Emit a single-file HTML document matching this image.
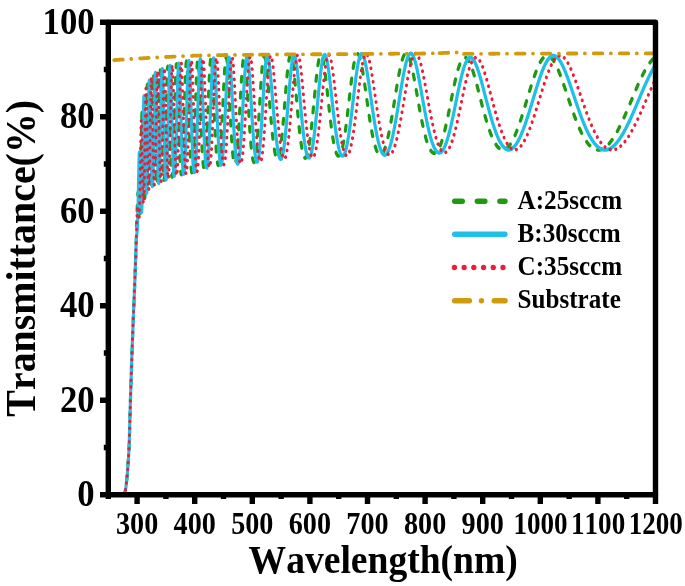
<!DOCTYPE html>
<html><head><meta charset="utf-8"><title>Transmittance</title>
<style>html,body{margin:0;padding:0;background:#fff}svg text{font-kerning:none}</style></head>
<body>
<svg width="685" height="586" viewBox="0 0 685 586" style="display:block">
<rect width="685" height="586" fill="#fff"/>
<defs><clipPath id="pc"><rect x="108.3" y="22.2" width="547.2" height="472.5"/></clipPath></defs>
<g clip-path="url(#pc)" fill="none" stroke-linejoin="round"><g transform="scale(0.82,1)">
<path d="M148.93,494.34 L149.07,494.30 L149.21,494.26 L149.35,494.22 L149.49,494.18 L149.63,494.14 L149.77,494.09 L149.92,494.04 L150.06,494.00 L150.20,493.94 L150.34,493.89 L150.48,493.84 L150.62,493.78 L150.76,493.73 L150.90,493.67 L151.04,493.61 L151.18,493.55 L151.32,493.48 L151.46,493.42 L151.60,493.35 L151.74,493.28 L151.88,493.18 L152.02,493.01 L152.16,492.78 L152.30,492.49 L152.44,492.13 L152.58,491.71 L152.72,491.24 L152.87,490.70 L153.01,490.11 L153.15,489.46 L153.29,488.75 L153.43,487.99 L153.57,487.18 L153.71,486.31 L153.85,485.39 L153.99,484.43 L154.13,483.41 L154.27,482.35 L154.41,481.23 L154.55,480.08 L154.69,478.88 L154.83,477.63 L154.97,476.34 L155.11,475.01 L155.25,473.64 L155.39,472.23 L155.53,470.79 L155.68,469.30 L155.82,467.78 L155.96,466.23 L156.10,464.64 L156.24,463.01 L156.38,461.36 L156.52,459.67 L156.66,457.96 L156.80,456.22 L156.94,454.44 L157.08,452.65 L157.22,450.57 L157.36,448.02 L157.50,445.03 L157.64,441.68 L157.78,438.02 L157.92,434.12 L158.06,430.02 L158.20,425.80 L158.34,421.52 L158.48,417.22 L158.63,412.98 L158.77,408.84 L158.91,404.88 L159.05,401.15 L159.19,397.54 L159.33,393.92 L159.47,390.29 L159.61,386.66 L159.75,383.03 L159.89,379.42 L160.03,375.83 L160.17,372.26 L160.31,368.72 L160.45,365.22 L160.59,361.77 L160.73,358.36 L160.87,355.01 L161.01,351.73 L161.15,348.52 L161.29,345.36 L161.44,342.26 L161.58,339.22 L161.72,336.25 L161.86,333.33 L162.00,330.46 L162.14,327.64 L162.28,324.84 L162.42,322.05 L162.56,319.26 L162.70,316.47 L162.84,313.65 L162.98,310.80 L163.12,307.93 L163.26,305.02 L163.40,302.08 L163.54,299.12 L163.68,296.16 L163.82,293.19 L163.96,290.24 L164.10,287.31 L164.24,284.42 L164.39,281.56 L164.53,278.75 L164.67,275.94 L164.81,273.04 L164.95,270.04 L165.09,266.95 L165.23,263.79 L165.37,260.55 L165.51,257.27 L165.65,253.93 L165.79,250.54 L165.93,247.10 L166.07,243.61 L166.21,240.04 L166.35,236.40 L166.49,232.67 L166.63,228.87 L166.77,225.01 L166.91,221.09 L167.05,217.07 L167.20,213.00 L167.34,209.00 L167.48,205.20 L167.62,201.70 L167.76,198.64 L167.90,196.14 L168.04,194.28 L168.18,193.13 L168.32,192.72 L168.46,193.05 L168.60,194.06 L168.74,195.67 L168.88,197.78 L169.02,200.25 L169.16,202.94 L169.30,205.72 L169.44,208.43 L169.58,210.97 L169.72,213.22 L169.86,215.09 L170.00,216.51 L170.15,217.40 L170.29,217.71 L170.43,217.38 L170.57,216.37 L170.71,214.65 L170.85,212.20 L170.99,209.00 L171.13,205.05 L171.27,200.35 L171.41,194.95 L171.55,188.88 L171.69,182.20 L171.83,175.02 L171.97,167.45 L172.11,159.64 L172.25,151.75 L172.39,143.95 L172.53,136.47 L172.67,129.51 L172.81,123.31 L172.96,118.09 L173.10,114.02 L173.24,111.27 L173.38,109.92 L173.52,110.00 L173.66,111.48 L173.80,114.27 L173.94,118.23 L174.08,123.17 L174.22,128.89 L174.36,135.17 L174.50,141.80 L174.64,148.58 L174.78,155.33 L174.92,161.89 L175.06,168.13 L175.20,173.94 L175.34,179.24 L175.48,183.96 L175.62,188.05 L175.76,191.47 L175.91,194.21 L176.05,196.24 L176.19,197.56 L176.33,198.18 L176.47,198.08 L176.61,197.28 L176.75,195.78 L176.89,193.59 L177.03,190.72 L177.17,187.20 L177.31,183.04 L177.45,178.27 L177.59,172.93 L177.73,167.07 L177.87,160.73 L178.01,154.00 L178.15,146.94 L178.29,139.65 L178.43,132.24 L178.57,124.85 L178.72,117.63 L178.86,110.74 L179.00,104.34 L179.14,98.59 L179.28,93.66 L179.42,89.67 L179.56,86.75 L179.70,84.98 L179.84,84.39 L179.98,85.00 L180.12,86.77 L180.26,89.64 L180.40,93.48 L180.54,98.18 L180.68,103.59 L180.82,109.56 L180.96,115.92 L181.10,122.53 L181.24,129.25 L181.38,135.94 L181.52,142.50 L181.67,148.82 L181.81,154.83 L181.95,160.45 L182.09,165.63 L182.23,170.33 L182.37,174.51 L182.51,178.15 L182.65,181.22 L182.79,183.73 L182.93,185.65 L183.07,186.99 L183.21,187.73 L183.35,187.89 L183.49,187.47 L183.63,186.46 L183.77,184.87 L183.91,182.72 L184.05,180.00 L184.19,176.75 L184.33,172.96 L184.48,168.67 L184.62,163.90 L184.76,158.69 L184.90,153.07 L185.04,147.10 L185.18,140.83 L185.32,134.34 L185.46,127.70 L185.60,121.00 L185.74,114.34 L185.88,107.84 L186.02,101.60 L186.16,95.75 L186.30,90.41 L186.44,85.69 L186.58,81.69 L186.72,78.52 L186.86,76.23 L187.00,74.90 L187.14,74.53 L187.28,75.15 L187.43,76.71 L187.57,79.18 L187.71,82.49 L187.85,86.53 L187.99,91.23 L188.13,96.45 L188.27,102.10 L188.41,108.06 L188.55,114.22 L188.69,120.47 L188.83,126.72 L188.97,132.89 L189.11,138.89 L189.25,144.68 L189.39,150.18 L189.53,155.35 L189.67,160.16 L189.81,164.58 L189.95,168.58 L190.09,172.14 L190.24,175.25 L190.38,177.89 L190.52,180.07 L190.66,181.78 L190.80,183.01 L190.94,183.76 L191.08,184.04 L191.22,183.84 L191.36,183.18 L191.50,182.04 L191.64,180.45 L191.78,178.40 L191.92,175.90 L192.06,172.97 L192.20,169.62 L192.34,165.86 L192.48,161.70 L192.62,157.19 L192.76,152.33 L192.90,147.17 L193.04,141.73 L193.19,136.08 L193.33,130.24 L193.47,124.30 L193.61,118.29 L193.75,112.31 L193.89,106.41 L194.03,100.68 L194.17,95.21 L194.31,90.08 L194.45,85.37 L194.59,81.16 L194.73,77.53 L194.87,74.54 L195.01,72.24 L195.15,70.68 L195.29,69.89 L195.43,69.88 L195.57,70.63 L195.71,72.13 L195.85,74.35 L196.00,77.23 L196.14,80.70 L196.28,84.72 L196.42,89.18 L196.56,94.03 L196.70,99.18 L196.84,104.54 L196.98,110.05 L197.12,115.63 L197.26,121.22 L197.40,126.76 L197.54,132.18 L197.68,137.46 L197.82,142.53 L197.96,147.37 L198.10,151.94 L198.24,156.23 L198.38,160.20 L198.52,163.85 L198.66,167.16 L198.80,170.12 L198.95,172.72 L199.09,174.95 L199.23,176.81 L199.37,178.31 L199.51,179.43 L199.65,180.18 L199.79,180.55 L199.93,180.56 L200.07,180.20 L200.21,179.46 L200.35,178.37 L200.49,176.92 L200.63,175.11 L200.77,172.96 L200.91,170.46 L201.05,167.63 L201.19,164.48 L201.33,161.03 L201.47,157.27 L201.61,153.24 L201.76,148.94 L201.90,144.41 L202.04,139.67 L202.18,134.75 L202.32,129.67 L202.46,124.49 L202.60,119.23 L202.74,113.95 L202.88,108.69 L203.02,103.51 L203.16,98.45 L203.30,93.58 L203.44,88.95 L203.58,84.62 L203.72,80.65 L203.86,77.08 L204.00,73.97 L204.14,71.36 L204.28,69.29 L204.42,67.79 L204.56,66.87 L204.71,66.55 L204.85,66.82 L204.99,67.69 L205.13,69.13 L205.27,71.11 L205.41,73.60 L205.55,76.56 L205.69,79.94 L205.83,83.70 L205.97,87.78 L206.11,92.13 L206.25,96.69 L206.39,101.41 L206.53,106.24 L206.67,111.13 L206.81,116.03 L206.95,120.91 L207.09,125.72 L207.23,130.43 L207.37,135.01 L207.52,139.43 L207.66,143.66 L207.80,147.70 L207.94,151.51 L208.08,155.09 L208.22,158.43 L208.36,161.50 L208.50,164.31 L208.64,166.84 L208.78,169.10 L208.92,171.07 L209.06,172.76 L209.20,174.17 L209.34,175.29 L209.48,176.12 L209.62,176.66 L209.76,176.91 L209.90,176.88 L210.04,176.56 L210.18,175.96 L210.32,175.08 L210.47,173.92 L210.61,172.49 L210.75,170.79 L210.89,168.82 L211.03,166.59 L211.17,164.11 L211.31,161.38 L211.45,158.41 L211.59,155.21 L211.73,151.80 L211.87,148.18 L212.01,144.36 L212.15,140.37 L212.29,136.23 L212.43,131.94 L212.57,127.54 L212.71,123.05 L212.85,118.50 L212.99,113.91 L213.13,109.32 L213.28,104.76 L213.42,100.26 L213.56,95.87 L213.70,91.61 L213.84,87.53 L213.98,83.67 L214.12,80.07 L214.26,76.75 L214.40,73.75 L214.54,71.12 L214.68,68.86 L214.82,67.02 L214.96,65.61 L215.10,64.63 L215.24,64.12 L215.38,64.05 L215.52,64.45 L215.66,65.29 L215.80,66.56 L215.94,68.25 L216.08,70.34 L216.23,72.80 L216.37,75.59 L216.51,78.69 L216.65,82.06 L216.79,85.67 L216.93,89.48 L217.07,93.46 L217.21,97.56 L217.35,101.76 L217.49,106.02 L217.63,110.31 L217.77,114.60 L217.91,118.87 L218.05,123.08 L218.19,127.22 L218.33,131.26 L218.47,135.18 L218.61,138.97 L218.75,142.62 L218.89,146.10 L219.04,149.42 L219.18,152.55 L219.32,155.49 L219.46,158.24 L219.60,160.78 L219.74,163.11 L219.88,165.24 L220.02,167.14 L220.16,168.84 L220.30,170.31 L220.44,171.56 L220.58,172.59 L220.72,173.40 L220.86,173.99 L221.00,174.35 L221.14,174.50 L221.28,174.42 L221.42,174.13 L221.56,173.62 L221.70,172.89 L221.84,171.94 L221.99,170.79 L222.13,169.42 L222.27,167.85 L222.41,166.07 L222.55,164.10 L222.69,161.92 L222.83,159.56 L222.97,157.01 L223.11,154.28 L223.25,151.38 L223.39,148.31 L223.53,145.09 L223.67,141.72 L223.81,138.22 L223.95,134.60 L224.09,130.86 L224.23,127.04 L224.37,123.13 L224.51,119.16 L224.65,115.15 L224.80,111.12 L224.94,107.09 L225.08,103.08 L225.22,99.11 L225.36,95.21 L225.50,91.41 L225.64,87.73 L225.78,84.20 L225.92,80.83 L226.06,77.67 L226.20,74.72 L226.34,72.02 L226.48,69.59 L226.62,67.45 L226.76,65.60 L226.90,64.08 L227.04,62.90 L227.18,62.05 L227.32,61.55 L227.46,61.40 L227.60,61.61 L227.75,62.16 L227.89,63.05 L228.03,64.28 L228.17,65.82 L228.31,67.66 L228.45,69.79 L228.59,72.19 L228.73,74.83 L228.87,77.69 L229.01,80.74 L229.15,83.98 L229.29,87.36 L229.43,90.86 L229.57,94.47 L229.71,98.16 L229.85,101.90 L229.99,105.67 L230.13,109.46 L230.27,113.24 L230.41,116.99 L230.56,120.71 L230.70,124.36 L230.84,127.95 L230.98,131.45 L231.12,134.85 L231.26,138.15 L231.40,141.33 L231.54,144.38 L231.68,147.30 L231.82,150.08 L231.96,152.72 L232.10,155.21 L232.24,157.54 L232.38,159.72 L232.52,161.73 L232.66,163.58 L232.80,165.27 L232.94,166.79 L233.08,168.14 L233.22,169.32 L233.36,170.34 L233.51,171.18 L233.65,171.85 L233.79,172.35 L233.93,172.68 L234.07,172.84 L234.21,172.84 L234.35,172.66 L234.49,172.31 L234.63,171.80 L234.77,171.13 L234.91,170.29 L235.05,169.28 L235.19,168.12 L235.33,166.79 L235.47,165.31 L235.61,163.67 L235.75,161.89 L235.89,159.95 L236.03,157.86 L236.17,155.64 L236.32,153.28 L236.46,150.78 L236.60,148.16 L236.74,145.41 L236.88,142.54 L237.02,139.57 L237.16,136.50 L237.30,133.33 L237.44,130.07 L237.58,126.75 L237.72,123.35 L237.86,119.91 L238.00,116.42 L238.14,112.90 L238.28,109.37 L238.42,105.84 L238.56,102.32 L238.70,98.83 L238.84,95.39 L238.98,92.01 L239.12,88.71 L239.27,85.51 L239.41,82.42 L239.55,79.46 L239.69,76.65 L239.83,74.00 L239.97,71.53 L240.11,69.25 L240.25,67.19 L240.39,65.34 L240.53,63.72 L240.67,62.35 L240.81,61.23 L240.95,60.36 L241.09,59.76 L241.23,59.41 L241.37,59.34 L241.51,59.53 L241.65,59.98 L241.79,60.69 L241.93,61.65 L242.08,62.85 L242.22,64.29 L242.36,65.94 L242.50,67.81 L242.64,69.87 L242.78,72.12 L242.92,74.54 L243.06,77.10 L243.20,79.81 L243.34,82.63 L243.48,85.56 L243.62,88.58 L243.76,91.67 L243.90,94.82 L244.04,98.02 L244.18,101.24 L244.32,104.48 L244.46,107.72 L244.60,110.95 L244.74,114.17 L244.88,117.34 L245.03,120.48 L245.17,123.56 L245.31,126.59 L245.45,129.54 L245.59,132.42 L245.73,135.22 L245.87,137.93 L246.01,140.54 L246.15,143.06 L246.29,145.47 L246.43,147.77 L246.57,149.97 L246.71,152.05 L246.85,154.02 L246.99,155.87 L247.13,157.59 L247.27,159.20 L247.41,160.69 L247.55,162.05 L247.69,163.28 L247.84,164.39 L247.98,165.37 L248.12,166.23 L248.26,166.96 L248.40,167.57 L248.54,168.04 L248.68,168.40 L248.82,168.62 L248.96,168.72 L249.10,168.69 L249.24,168.54 L249.38,168.27 L249.52,167.87 L249.66,167.35 L249.80,166.71 L249.94,165.95 L250.08,165.06 L250.22,164.06 L250.36,162.95 L250.50,161.71 L250.64,160.37 L250.79,158.91 L250.93,157.34 L251.07,155.67 L251.21,153.89 L251.35,152.00 L251.49,150.02 L251.63,147.94 L251.77,145.76 L251.91,143.50 L252.05,141.14 L252.19,138.71 L252.33,136.20 L252.47,133.61 L252.61,130.96 L252.75,128.25 L252.89,125.48 L253.03,122.66 L253.17,119.80 L253.31,116.90 L253.45,113.97 L253.60,111.02 L253.74,108.07 L253.88,105.10 L254.02,102.15 L254.16,99.21 L254.30,96.29 L254.44,93.41 L254.58,90.58 L254.72,87.80 L254.86,85.09 L255.00,82.45 L255.14,79.90 L255.28,77.45 L255.42,75.11 L255.56,72.89 L255.70,70.79 L255.84,68.83 L255.98,67.01 L256.12,65.35 L256.26,63.85 L256.40,62.51 L256.55,61.35 L256.69,60.37 L256.83,59.57 L256.97,58.96 L257.11,58.53 L257.25,58.30 L257.39,58.25 L257.53,58.40 L257.67,58.73 L257.81,59.25 L257.95,59.95 L258.09,60.83 L258.23,61.88 L258.37,63.09 L258.51,64.47 L258.65,66.00 L258.79,67.67 L258.93,69.47 L259.07,71.41 L259.21,73.46 L259.36,75.62 L259.50,77.87 L259.64,80.22 L259.78,82.65 L259.92,85.14 L260.06,87.70 L260.20,90.30 L260.34,92.95 L260.48,95.63 L260.62,98.33 L260.76,101.04 L260.90,103.76 L261.04,106.48 L261.18,109.20 L261.32,111.89 L261.46,114.56 L261.60,117.21 L261.74,119.82 L261.88,122.38 L262.02,124.91 L262.16,127.38 L262.31,129.79 L262.45,132.15 L262.59,134.44 L262.73,136.67 L262.87,138.83 L263.01,140.91 L263.15,142.92 L263.29,144.85 L263.43,146.70 L263.57,148.47 L263.71,150.16 L263.85,151.76 L263.99,153.27 L264.13,154.70 L264.27,156.04 L264.41,157.29 L264.55,158.44 L264.69,159.51 L264.83,160.49 L264.97,161.37 L265.12,162.17 L265.26,162.87 L265.40,163.48 L265.54,163.99 L265.68,164.42 L265.82,164.75 L265.96,164.99 L266.10,165.14 L266.24,165.19 L266.38,165.16 L266.52,165.03 L266.66,164.81 L266.80,164.50 L266.94,164.11 L267.08,163.62 L267.22,163.05 L267.36,162.38 L267.50,161.63 L267.64,160.79 L267.78,159.87 L267.92,158.87 L268.07,157.78 L268.21,156.60 L268.35,155.35 L268.49,154.02 L268.63,152.60 L268.77,151.12 L268.91,149.55 L269.05,147.91 L269.19,146.20 L269.33,144.42 L269.47,142.58 L269.61,140.66 L269.75,138.69 L269.89,136.65 L270.03,134.56 L270.17,132.41 L270.31,130.22 L270.45,127.97 L270.59,125.68 L270.73,123.35 L270.88,120.98 L271.02,118.58 L271.16,116.16 L271.30,113.71 L271.44,111.24 L271.58,108.76 L271.72,106.27 L271.86,103.79 L272.00,101.30 L272.14,98.82 L272.28,96.36 L272.42,93.92 L272.56,91.51 L272.91,85.64 L273.26,80.09 L273.61,74.95 L273.97,70.32 L274.32,66.30 L274.67,62.96 L275.02,60.38 L275.37,58.61 L275.72,57.68 L276.07,57.61 L276.42,58.40 L276.78,60.01 L277.13,62.40 L277.48,65.51 L277.83,69.27 L278.18,73.60 L278.53,78.40 L278.88,83.58 L279.23,89.05 L279.59,94.72 L279.94,100.49 L280.29,106.29 L280.64,112.04 L280.99,117.67 L281.34,123.14 L281.69,128.38 L282.04,133.36 L282.40,138.03 L282.75,142.37 L283.10,146.36 L283.45,149.97 L283.80,153.18 L284.15,156.00 L284.50,158.40 L284.85,160.38 L285.20,161.95 L285.56,163.09 L285.91,163.81 L286.26,164.10 L286.61,163.98 L286.96,163.44 L287.31,162.49 L287.66,161.14 L288.01,159.39 L288.37,157.25 L288.72,154.73 L289.07,151.84 L289.42,148.60 L289.77,145.03 L290.12,141.14 L290.47,136.96 L290.82,132.50 L291.18,127.81 L291.53,122.92 L291.88,117.86 L292.23,112.68 L292.58,107.41 L292.93,102.12 L293.28,96.86 L293.63,91.69 L293.99,86.66 L294.34,81.83 L294.69,77.28 L295.04,73.06 L295.39,69.22 L295.74,65.83 L296.09,62.94 L296.44,60.59 L296.80,58.81 L297.15,57.62 L297.50,57.05 L297.85,57.10 L298.20,57.76 L298.55,59.01 L298.90,60.84 L299.25,63.20 L299.60,66.05 L299.96,69.35 L300.31,73.04 L300.66,77.06 L301.01,81.37 L301.36,85.90 L301.71,90.59 L302.06,95.39 L302.41,100.25 L302.77,105.12 L303.12,109.96 L303.47,114.72 L303.82,119.37 L304.17,123.88 L304.52,128.21 L304.87,132.35 L305.22,136.26 L305.58,139.94 L305.93,143.37 L306.28,146.54 L306.63,149.42 L306.98,152.03 L307.33,154.35 L307.68,156.37 L308.03,158.11 L308.39,159.56 L308.74,160.70 L309.09,161.52 L309.44,162.03 L309.79,162.21 L310.14,162.06 L310.49,161.57 L310.84,160.74 L311.20,159.58 L311.55,158.08 L311.90,156.24 L312.25,154.08 L312.60,151.59 L312.95,148.79 L313.30,145.69 L313.65,142.29 L314.00,138.62 L314.36,134.70 L314.71,130.54 L315.06,126.18 L315.41,121.65 L315.76,116.97 L316.11,112.18 L316.46,107.33 L316.81,102.45 L317.17,97.59 L317.52,92.80 L317.87,88.12 L318.22,83.60 L318.57,79.30 L318.92,75.25 L319.27,71.50 L319.62,68.09 L319.98,65.06 L320.33,62.43 L320.68,60.24 L321.03,58.48 L321.38,57.18 L321.73,56.34 L322.08,55.95 L322.43,56.00 L322.79,56.47 L323.14,57.34 L323.49,58.59 L323.84,60.18 L324.19,62.08 L324.54,64.28 L324.89,66.73 L325.24,69.40 L325.60,72.27 L325.95,75.31 L326.30,78.49 L326.65,81.78 L327.00,85.15 L327.35,88.60 L327.70,92.08 L328.05,95.59 L328.40,99.10 L328.76,102.61 L329.11,106.08 L329.46,109.52 L329.81,112.91 L330.16,116.23 L330.51,119.48 L330.86,122.64 L331.21,125.72 L331.57,128.70 L331.92,131.57 L332.27,134.33 L332.62,136.98 L332.97,139.50 L333.32,141.89 L333.67,144.16 L334.02,146.28 L334.38,148.27 L334.73,150.11 L335.08,151.80 L335.43,153.33 L335.78,154.71 L336.13,155.92 L336.48,156.96 L336.83,157.83 L337.19,158.52 L337.54,159.03 L337.89,159.35 L338.24,159.48 L338.59,159.40 L338.94,159.13 L339.29,158.65 L339.64,157.98 L340.00,157.11 L340.35,156.05 L340.70,154.80 L341.05,153.36 L341.40,151.74 L341.75,149.93 L342.10,147.95 L342.45,145.80 L342.80,143.49 L343.16,141.01 L343.51,138.38 L343.86,135.61 L344.21,132.70 L344.56,129.67 L344.91,126.52 L345.26,123.26 L345.61,119.91 L345.97,116.47 L346.32,112.97 L346.67,109.42 L347.02,105.83 L347.37,102.23 L347.72,98.62 L348.07,95.03 L348.42,91.47 L348.78,87.97 L349.13,84.55 L349.48,81.22 L349.83,78.01 L350.18,74.94 L350.53,72.02 L350.88,69.28 L351.23,66.74 L351.59,64.41 L351.94,62.31 L352.29,60.45 L352.64,58.84 L352.99,57.51 L353.34,56.45 L353.69,55.68 L354.04,55.19 L354.40,54.99 L354.75,55.08 L355.10,55.45 L355.45,56.10 L355.80,57.03 L356.15,58.22 L356.50,59.66 L356.85,61.33 L357.20,63.23 L357.56,65.34 L357.91,67.65 L358.26,70.12 L358.61,72.76 L358.96,75.53 L359.31,78.42 L359.66,81.42 L360.01,84.50 L360.37,87.65 L360.72,90.85 L361.07,94.09 L361.42,97.34 L361.77,100.60 L362.12,103.85 L362.47,107.08 L362.82,110.27 L363.18,113.41 L363.53,116.50 L363.88,119.52 L364.23,122.47 L364.58,125.33 L364.93,128.10 L365.28,130.77 L365.63,133.34 L365.99,135.80 L366.34,138.15 L366.69,140.37 L367.04,142.48 L367.39,144.46 L367.74,146.31 L368.09,148.03 L368.44,149.62 L368.80,151.07 L369.15,152.39 L369.50,153.57 L369.85,154.61 L370.20,155.51 L370.55,156.27 L370.90,156.90 L371.25,157.38 L371.60,157.72 L371.96,157.92 L372.31,157.98 L372.66,157.91 L373.01,157.69 L373.36,157.33 L373.71,156.83 L374.06,156.19 L374.41,155.41 L374.77,154.50 L375.12,153.45 L375.47,152.27 L375.82,150.95 L376.17,149.50 L376.52,147.92 L376.87,146.22 L377.22,144.39 L377.58,142.45 L377.93,140.38 L378.28,138.21 L378.63,135.93 L378.98,133.54 L379.33,131.06 L379.68,128.49 L380.03,125.83 L380.39,123.10 L380.74,120.29 L381.09,117.43 L381.44,114.51 L381.79,111.54 L382.14,108.54 L382.49,105.51 L382.84,102.47 L383.20,99.43 L383.55,96.40 L383.90,93.38 L384.25,90.40 L384.60,87.46 L384.95,84.57 L385.30,81.76 L385.65,79.03 L386.00,76.39 L386.36,73.85 L386.71,71.44 L387.06,69.15 L387.41,67.00 L387.76,65.00 L388.11,63.16 L388.46,61.49 L388.81,60.00 L389.17,58.68 L389.52,57.55 L389.87,56.62 L390.22,55.88 L390.57,55.33 L390.92,54.99 L391.27,54.84 L391.62,54.88 L391.98,55.12 L392.33,55.55 L392.68,56.16 L393.03,56.96 L393.38,57.94 L393.73,59.09 L394.08,60.40 L394.43,61.86 L394.79,63.48 L395.14,65.23 L395.49,67.11 L395.84,69.12 L396.19,71.23 L396.54,73.44 L396.89,75.74 L397.24,78.12 L397.60,80.57 L397.95,83.08 L398.30,85.63 L398.65,88.23 L399.00,90.86 L399.35,93.50 L399.70,96.16 L400.05,98.82 L400.40,101.48 L400.76,104.13 L401.11,106.75 L401.46,109.35 L401.81,111.92 L402.16,114.45 L402.51,116.93 L402.86,119.37 L403.21,121.75 L403.57,124.07 L403.92,126.33 L404.27,128.53 L404.62,130.65 L404.97,132.70 L405.32,134.68 L405.67,136.57 L406.02,138.39 L406.38,140.12 L406.73,141.77 L407.08,143.33 L407.43,144.81 L407.78,146.19 L408.13,147.49 L408.48,148.69 L408.83,149.81 L409.19,150.83 L409.54,151.76 L409.89,152.59 L410.24,153.34 L410.59,153.98 L410.94,154.54 L411.29,155.00 L411.64,155.37 L412.00,155.65 L412.35,155.83 L412.70,155.92 L413.05,155.92 L413.40,155.82 L413.75,155.63 L414.10,155.35 L414.45,154.98 L414.80,154.51 L415.16,153.95 L415.51,153.30 L415.86,152.55 L416.21,151.72 L416.56,150.79 L416.91,149.76 L417.26,148.65 L417.61,147.45 L417.97,146.17 L418.32,144.79 L418.67,143.33 L419.02,141.79 L419.37,140.17 L419.72,138.46 L420.07,136.68 L420.42,134.82 L420.78,132.90 L421.13,130.90 L421.48,128.84 L421.83,126.72 L422.18,124.54 L422.53,122.30 L422.88,120.01 L423.23,117.68 L423.59,115.31 L423.94,112.90 L424.29,110.47 L424.64,108.01 L424.99,105.53 L425.34,103.03 L425.69,100.53 L426.04,98.03 L426.40,95.54 L426.75,93.06 L427.10,90.60 L427.45,88.17 L427.80,85.77 L428.15,83.41 L428.50,81.10 L428.85,78.85 L429.20,76.65 L429.56,74.53 L429.91,72.48 L430.26,70.52 L430.61,68.64 L430.96,66.85 L431.31,65.17 L431.66,63.58 L432.01,62.11 L432.37,60.75 L432.72,59.51 L433.07,58.38 L433.42,57.39 L433.77,56.51 L434.12,55.76 L434.47,55.14 L434.82,54.65 L435.18,54.29 L435.53,54.05 L435.88,53.94 L436.23,53.96 L436.58,54.10 L436.93,54.36 L437.28,54.75 L437.63,55.25 L437.99,55.86 L438.34,56.59 L438.69,57.42 L439.04,58.36 L439.39,59.40 L439.74,60.53 L440.09,61.76 L440.44,63.07 L440.80,64.47 L441.15,65.94 L441.50,67.48 L441.85,69.10 L442.20,70.77 L442.55,72.51 L442.90,74.29 L443.25,76.12 L443.60,78.00 L443.96,79.91 L444.31,81.86 L444.66,83.84 L445.01,85.83 L445.36,87.85 L445.71,89.89 L446.06,91.93 L446.41,93.98 L446.77,96.03 L447.12,98.09 L447.47,100.14 L447.82,102.18 L448.17,104.21 L448.87,108.22 L449.58,112.15 L450.28,115.98 L450.98,119.70 L451.68,123.28 L452.39,126.70 L453.09,129.97 L453.79,133.06 L454.49,135.98 L455.20,138.70 L455.90,141.22 L456.60,143.55 L457.30,145.67 L458.00,147.58 L458.71,149.27 L459.41,150.75 L460.11,152.02 L460.81,153.07 L461.52,153.90 L462.22,154.51 L462.92,154.90 L463.62,155.07 L464.33,155.02 L465.03,154.75 L465.73,154.27 L466.43,153.58 L467.14,152.69 L467.84,151.58 L468.54,150.28 L469.24,148.79 L469.95,147.10 L470.65,145.23 L471.35,143.18 L472.05,140.96 L472.76,138.57 L473.46,136.02 L474.16,133.32 L474.86,130.48 L475.57,127.50 L476.27,124.41 L476.97,121.20 L477.67,117.90 L478.38,114.51 L479.08,111.05 L479.78,107.53 L480.48,103.98 L481.19,100.39 L481.89,96.81 L482.59,93.23 L483.29,89.69 L484.00,86.20 L484.70,82.78 L485.40,79.46 L486.10,76.24 L486.80,73.17 L487.51,70.25 L488.21,67.50 L488.91,64.95 L489.61,62.62 L490.32,60.52 L491.02,58.66 L491.72,57.07 L492.42,55.75 L493.13,54.72 L493.83,53.98 L494.53,53.53 L495.23,53.39 L495.94,53.55 L496.64,54.01 L497.34,54.76 L498.04,55.80 L498.75,57.10 L499.45,58.67 L500.15,60.47 L500.85,62.51 L501.56,64.76 L502.26,67.20 L502.96,69.81 L503.66,72.58 L504.37,75.48 L505.07,78.50 L505.77,81.61 L506.47,84.79 L507.18,88.03 L507.88,91.31 L508.58,94.61 L509.28,97.90 L509.99,101.19 L510.69,104.45 L511.39,107.67 L512.09,110.83 L512.80,113.93 L513.50,116.95 L514.20,119.89 L514.90,122.74 L515.60,125.48 L516.31,128.12 L517.01,130.64 L517.71,133.04 L518.41,135.32 L519.12,137.47 L519.82,139.49 L520.52,141.37 L521.22,143.12 L521.93,144.72 L522.63,146.19 L523.33,147.52 L524.03,148.70 L524.74,149.75 L525.44,150.64 L526.14,151.40 L526.84,152.01 L527.55,152.49 L528.25,152.82 L528.95,153.01 L529.65,153.06 L530.36,152.97 L531.06,152.74 L531.76,152.37 L532.46,151.87 L533.17,151.22 L533.87,150.44 L534.57,149.51 L535.27,148.45 L535.98,147.25 L536.68,145.92 L537.38,144.45 L538.08,142.86 L538.79,141.13 L539.49,139.29 L540.19,137.32 L540.89,135.24 L541.60,133.06 L542.30,130.76 L543.00,128.37 L543.70,125.89 L544.40,123.33 L545.11,120.69 L545.81,117.98 L546.51,115.22 L547.21,112.40 L547.92,109.55 L548.62,106.67 L549.32,103.77 L550.02,100.87 L550.73,97.97 L551.43,95.09 L552.13,92.24 L552.83,89.43 L553.54,86.67 L554.24,83.98 L554.94,81.37 L555.64,78.85 L556.35,76.43 L557.05,74.12 L557.75,71.94 L558.45,69.88 L559.16,67.97 L559.86,66.20 L560.56,64.58 L561.26,63.13 L561.97,61.84 L562.67,60.71 L563.37,59.76 L564.07,58.98 L564.78,58.37 L565.48,57.93 L566.18,57.66 L566.88,57.55 L567.59,57.61 L568.29,57.82 L568.99,58.19 L569.69,58.71 L570.40,59.38 L571.10,60.19 L571.80,61.14 L572.50,62.22 L573.20,63.42 L573.91,64.75 L574.61,66.19 L575.31,67.73 L576.01,69.38 L576.72,71.12 L577.42,72.94 L578.12,74.84 L578.82,76.80 L579.53,78.83 L580.23,80.91 L580.93,83.04 L581.63,85.20 L582.34,87.40 L583.04,89.62 L583.74,91.85 L584.44,94.10 L585.15,96.35 L585.85,98.61 L586.55,100.85 L587.25,103.08 L587.96,105.30 L588.66,107.49 L589.36,109.66 L590.06,111.80 L590.77,113.90 L591.47,115.96 L592.17,117.98 L592.87,119.95 L593.58,121.88 L594.28,123.76 L594.98,125.58 L595.68,127.35 L596.39,129.05 L597.09,130.70 L597.79,132.29 L598.49,133.81 L599.20,135.27 L599.90,136.67 L600.60,137.99 L601.30,139.25 L602.00,140.44 L602.71,141.57 L603.41,142.62 L604.11,143.60 L604.81,144.51 L605.52,145.35 L606.22,146.11 L606.92,146.81 L607.62,147.43 L608.33,147.98 L609.03,148.46 L609.73,148.86 L610.43,149.20 L611.14,149.46 L611.84,149.65 L612.54,149.77 L613.24,149.81 L613.95,149.79 L614.65,149.70 L615.35,149.53 L616.05,149.30 L616.76,148.99 L617.46,148.62 L618.16,148.19 L618.86,147.68 L619.57,147.11 L620.27,146.47 L620.97,145.77 L621.67,145.01 L622.38,144.18 L623.08,143.29 L623.78,142.34 L624.48,141.33 L625.19,140.26 L625.89,139.13 L626.59,137.95 L627.29,136.71 L628.00,135.42 L628.70,134.07 L629.40,132.68 L630.10,131.24 L630.80,129.75 L631.51,128.22 L632.21,126.64 L632.91,125.03 L633.61,123.37 L634.32,121.68 L635.02,119.95 L635.72,118.19 L636.42,116.41 L637.13,114.59 L637.83,112.75 L638.53,110.89 L639.23,109.01 L639.94,107.12 L640.64,105.21 L641.34,103.29 L642.04,101.37 L642.75,99.44 L643.45,97.52 L644.15,95.59 L644.85,93.67 L645.56,91.77 L646.26,89.87 L646.96,87.99 L647.66,86.14 L648.37,84.31 L649.07,82.50 L649.77,80.73 L650.47,78.99 L651.18,77.30 L651.88,75.64 L652.58,74.03 L653.28,72.47 L653.99,70.96 L654.69,69.51 L655.39,68.12 L656.09,66.79 L656.80,65.52 L657.50,64.32 L658.20,63.19 L658.90,62.14 L659.60,61.16 L660.31,60.26 L661.01,59.44 L661.71,58.69 L662.41,58.03 L663.12,57.46 L663.82,56.97 L664.52,56.56 L665.22,56.25 L665.93,56.01 L666.63,55.87 L667.33,55.81 L668.03,55.84 L668.74,55.96 L669.44,56.16 L670.14,56.45 L670.84,56.82 L671.55,57.27 L672.25,57.81 L672.95,58.42 L673.65,59.12 L674.36,59.89 L675.06,60.73 L675.76,61.64 L676.46,62.62 L677.17,63.67 L677.87,64.78 L678.57,65.95 L679.27,67.18 L679.98,68.47 L680.68,69.80 L681.38,71.18 L682.08,72.61 L682.79,74.08 L683.49,75.59 L684.19,77.13 L684.89,78.71 L685.60,80.31 L686.30,81.94 L687.00,83.59 L687.70,85.27 L688.40,86.96 L689.11,88.66 L689.81,90.37 L690.51,92.09 L691.21,93.82 L691.92,95.55 L692.62,97.27 L693.32,99.00 L694.02,100.72 L694.73,102.43 L695.43,104.13 L696.13,105.82 L696.83,107.50 L697.54,109.15 L698.24,110.80 L698.94,112.42 L699.64,114.02 L700.35,115.59 L701.05,117.14 L701.75,118.67 L702.45,120.17 L703.16,121.64 L703.86,123.07 L704.56,124.48 L705.26,125.86 L705.97,127.20 L706.67,128.51 L707.37,129.78 L708.07,131.02 L708.78,132.22 L709.48,133.38 L710.18,134.51 L710.88,135.60 L711.59,136.65 L712.29,137.66 L712.99,138.63 L713.69,139.56 L714.40,140.45 L715.10,141.31 L715.80,142.12 L716.50,142.89 L717.20,143.62 L717.91,144.31 L718.61,144.96 L719.31,145.57 L720.01,146.13 L720.72,146.66 L721.42,147.15 L722.12,147.59 L722.82,148.00 L723.53,148.36 L724.23,148.69 L724.93,148.97 L725.63,149.22 L726.34,149.42 L727.04,149.59 L727.74,149.72 L728.44,149.81 L729.15,149.86 L729.85,149.87 L730.55,149.84 L731.25,149.78 L731.96,149.68 L732.66,149.54 L733.36,149.37 L734.06,149.16 L734.77,148.91 L735.47,148.63 L736.17,148.31 L736.87,147.95 L737.58,147.56 L738.28,147.14 L738.98,146.68 L739.68,146.19 L740.39,145.66 L741.09,145.11 L741.79,144.51 L742.49,143.89 L743.20,143.23 L743.90,142.55 L744.60,141.83 L745.30,141.08 L746.00,140.30 L746.71,139.49 L747.41,138.65 L748.11,137.78 L748.81,136.89 L749.52,135.97 L750.22,135.02 L750.92,134.04 L751.62,133.04 L752.33,132.02 L753.03,130.97 L753.73,129.89 L754.43,128.80 L755.14,127.68 L755.84,126.54 L756.54,125.38 L757.24,124.20 L757.95,123.00 L758.65,121.78 L759.35,120.55 L760.05,119.30 L760.76,118.03 L761.46,116.75 L762.16,115.45 L762.86,114.15 L763.57,112.83 L764.27,111.50 L764.97,110.16 L765.67,108.81 L766.38,107.45 L767.08,106.09 L767.78,104.72 L768.48,103.35 L769.19,101.98 L769.89,100.60 L770.59,99.22 L771.29,97.85 L772.00,96.47 L772.70,95.10 L773.40,93.73 L774.10,92.37 L774.80,91.01 L775.51,89.66 L776.21,88.33 L776.91,87.00 L777.61,85.68 L778.32,84.38 L779.02,83.09 L779.72,81.81 L780.42,80.55 L781.13,79.31 L781.83,78.09 L782.53,76.89 L783.23,75.72 L783.94,74.56 L784.64,73.43 L785.34,72.32 L786.04,71.24 L786.75,70.19 L787.45,69.17 L788.15,68.18 L788.85,67.21 L789.56,66.28 L790.26,65.38 L790.96,64.52 L791.66,63.69 L792.37,62.89 L793.07,62.13 L793.77,61.41 L794.47,60.73 L795.18,60.08 L795.88,59.47 L796.58,58.90 L797.28,58.38 L797.99,57.89 L798.69,57.44 L799.39,57.04" stroke="#1f9a0e" stroke-width="3.9" stroke-linecap="round" stroke-dasharray="5.25 10.65"/>
<path d="M148.93,494.34 L149.07,494.30 L149.21,494.26 L149.35,494.22 L149.49,494.18 L149.63,494.14 L149.77,494.09 L149.92,494.04 L150.06,494.00 L150.20,493.94 L150.34,493.89 L150.48,493.84 L150.62,493.78 L150.76,493.73 L150.90,493.67 L151.04,493.61 L151.18,493.55 L151.32,493.48 L151.46,493.42 L151.60,493.35 L151.74,493.28 L151.88,493.18 L152.02,493.01 L152.16,492.78 L152.30,492.49 L152.44,492.13 L152.58,491.71 L152.72,491.24 L152.87,490.70 L153.01,490.11 L153.15,489.46 L153.29,488.75 L153.43,487.99 L153.57,487.18 L153.71,486.31 L153.85,485.39 L153.99,484.43 L154.13,483.41 L154.27,482.35 L154.41,481.23 L154.55,480.08 L154.69,478.88 L154.83,477.63 L154.97,476.34 L155.11,475.01 L155.25,473.64 L155.39,472.23 L155.53,470.79 L155.68,469.30 L155.82,467.78 L155.96,466.23 L156.10,464.64 L156.24,463.01 L156.38,461.36 L156.52,459.67 L156.66,457.96 L156.80,456.22 L156.94,454.44 L157.08,452.65 L157.22,450.57 L157.36,448.02 L157.50,445.03 L157.64,441.68 L157.78,438.02 L157.92,434.12 L158.06,430.02 L158.20,425.80 L158.34,421.52 L158.48,417.22 L158.63,412.98 L158.77,408.84 L158.91,404.88 L159.05,401.15 L159.19,397.54 L159.33,393.92 L159.47,390.29 L159.61,386.66 L159.75,383.03 L159.89,379.42 L160.03,375.83 L160.17,372.26 L160.31,368.72 L160.45,365.22 L160.59,361.77 L160.73,358.36 L160.87,355.01 L161.01,351.73 L161.15,348.52 L161.29,345.35 L161.44,342.22 L161.58,339.12 L161.72,336.04 L161.86,332.99 L162.00,329.96 L162.14,326.95 L162.28,323.99 L162.42,321.06 L162.56,318.18 L162.70,315.36 L162.84,312.58 L162.98,309.85 L163.12,307.16 L163.26,304.49 L163.40,301.84 L163.54,299.18 L163.68,296.49 L163.82,293.76 L163.96,290.96 L164.10,288.09 L164.24,285.14 L164.39,282.09 L164.53,278.95 L164.67,275.73 L164.81,272.43 L164.95,269.07 L165.09,265.68 L165.23,262.29 L165.37,258.94 L165.51,255.65 L165.65,252.46 L165.79,249.41 L165.93,246.55 L166.07,243.90 L166.21,241.52 L166.35,239.41 L166.49,237.61 L166.63,236.12 L166.77,234.93 L166.91,233.97 L167.05,232.99 L167.20,231.86 L167.34,230.50 L167.48,228.82 L167.62,226.75 L167.76,224.23 L167.90,221.22 L168.04,217.67 L168.18,213.60 L168.32,209.00 L168.46,203.93 L168.60,198.44 L168.74,192.63 L168.88,186.64 L169.02,180.62 L169.16,174.75 L169.30,169.25 L169.44,164.27 L169.58,159.94 L169.72,156.45 L169.86,153.94 L170.00,152.52 L170.15,152.26 L170.29,153.17 L170.43,155.19 L170.57,158.22 L170.71,162.12 L170.85,166.70 L170.99,171.77 L171.13,177.13 L171.27,182.57 L171.41,187.91 L171.55,193.00 L171.69,197.68 L171.83,201.86 L171.97,205.42 L172.11,208.29 L172.25,210.42 L172.39,211.76 L172.53,212.30 L172.67,212.00 L172.81,210.86 L172.96,208.88 L173.10,206.05 L173.24,202.39 L173.38,197.91 L173.52,192.65 L173.66,186.63 L173.80,179.93 L173.94,172.62 L174.08,164.80 L174.22,156.59 L174.36,148.15 L174.50,139.66 L174.64,131.32 L174.78,123.36 L174.92,116.02 L175.06,109.54 L175.20,104.12 L175.34,99.95 L175.48,97.19 L175.62,95.91 L175.76,96.12 L175.91,97.74 L176.05,100.69 L176.19,104.82 L176.33,109.93 L176.47,115.84 L176.61,122.33 L176.75,129.20 L176.89,136.24 L177.03,143.30 L177.17,150.21 L177.31,156.85 L177.45,163.11 L177.59,168.90 L177.73,174.16 L177.87,178.84 L178.01,182.91 L178.15,186.32 L178.29,189.03 L178.43,191.05 L178.57,192.36 L178.72,192.96 L178.86,192.84 L179.00,192.02 L179.14,190.48 L179.28,188.26 L179.42,185.35 L179.56,181.77 L179.70,177.56 L179.84,172.73 L179.98,167.33 L180.12,161.39 L180.26,155.00 L180.40,148.21 L180.54,141.12 L180.68,133.82 L180.82,126.45 L180.96,119.13 L181.10,112.02 L181.24,105.26 L181.38,99.03 L181.52,93.48 L181.67,88.77 L181.81,85.01 L181.95,82.33 L182.09,80.79 L182.23,80.43 L182.37,81.26 L182.51,83.22 L182.65,86.26 L182.79,90.25 L182.93,95.08 L183.07,100.60 L183.21,106.65 L183.35,113.09 L183.49,119.76 L183.63,126.53 L183.77,133.27 L183.91,139.88 L184.05,146.25 L184.19,152.31 L184.33,157.98 L184.48,163.22 L184.62,167.98 L184.76,172.23 L184.90,175.94 L185.04,179.10 L185.18,181.69 L185.32,183.71 L185.46,185.14 L185.60,185.99 L185.74,186.26 L185.88,185.95 L186.02,185.06 L186.16,183.60 L186.30,181.58 L186.44,179.00 L186.58,175.88 L186.72,172.24 L186.86,168.09 L187.00,163.46 L187.14,158.38 L187.28,152.89 L187.43,147.04 L187.57,140.87 L187.71,134.46 L187.85,127.89 L187.99,121.23 L188.13,114.58 L188.27,108.04 L188.41,101.74 L188.55,95.77 L188.69,90.27 L188.83,85.34 L188.97,81.10 L189.11,77.63 L189.25,75.03 L189.39,73.34 L189.53,72.61 L189.67,72.85 L189.81,74.04 L189.95,76.15 L190.09,79.11 L190.24,82.85 L190.38,87.27 L190.52,92.27 L190.66,97.74 L190.80,103.56 L190.94,109.62 L191.08,115.83 L191.22,122.09 L191.36,128.30 L191.50,134.39 L191.64,140.29 L191.78,145.94 L191.92,151.28 L192.06,156.29 L192.20,160.93 L192.34,165.16 L192.48,168.98 L192.62,172.35 L192.76,175.28 L192.90,177.75 L193.04,179.75 L193.19,181.29 L193.33,182.36 L193.47,182.96 L193.61,183.10 L193.75,182.77 L193.89,181.98 L194.03,180.73 L194.17,179.04 L194.31,176.90 L194.45,174.33 L194.59,171.33 L194.73,167.92 L194.87,164.12 L195.01,159.94 L195.15,155.40 L195.29,150.55 L195.43,145.39 L195.57,139.99 L195.71,134.37 L195.85,128.58 L196.00,122.69 L196.14,116.75 L196.28,110.84 L196.42,105.02 L196.56,99.38 L196.70,93.99 L196.84,88.93 L196.98,84.29 L197.12,80.14 L197.26,76.56 L197.40,73.60 L197.54,71.33 L197.68,69.77 L197.82,68.97 L197.96,68.92 L198.10,69.62 L198.24,71.06 L198.38,73.19 L198.52,75.98 L198.66,79.36 L198.80,83.27 L198.95,87.64 L199.09,92.39 L199.23,97.44 L199.37,102.71 L199.51,108.15 L199.65,113.66 L199.79,119.19 L199.93,124.68 L200.07,130.07 L200.21,135.32 L200.35,140.39 L200.49,145.23 L200.63,149.83 L200.77,154.14 L200.91,158.16 L201.05,161.87 L201.19,165.24 L201.33,168.27 L201.47,170.95 L201.61,173.28 L201.76,175.25 L201.90,176.85 L202.04,178.09 L202.18,178.97 L202.32,179.48 L202.46,179.63 L202.60,179.41 L202.74,178.83 L202.88,177.90 L203.02,176.61 L203.16,174.98 L203.30,173.00 L203.44,170.68 L203.58,168.03 L203.72,165.07 L203.86,161.79 L204.00,158.22 L204.14,154.37 L204.28,150.25 L204.42,145.89 L204.56,141.31 L204.71,136.54 L204.85,131.60 L204.99,126.54 L205.13,121.38 L205.27,116.18 L205.41,110.96 L205.55,105.79 L205.69,100.72 L205.83,95.79 L205.97,91.07 L206.11,86.60 L206.25,82.44 L206.39,78.65 L206.53,75.28 L206.67,72.36 L206.81,69.94 L206.95,68.06 L207.09,66.74 L207.23,65.99 L207.37,65.83 L207.52,66.25 L207.66,67.24 L207.80,68.78 L207.94,70.85 L208.08,73.40 L208.22,76.41 L208.36,79.82 L208.50,83.59 L208.64,87.66 L208.78,91.99 L208.92,96.51 L209.06,101.19 L209.20,105.97 L209.34,110.80 L209.48,115.65 L209.62,120.46 L209.76,125.21 L209.90,129.86 L210.04,134.38 L210.18,138.74 L210.32,142.93 L210.47,146.91 L210.61,150.69 L210.75,154.23 L210.89,157.53 L211.03,160.58 L211.17,163.38 L211.31,165.90 L211.45,168.16 L211.59,170.13 L211.73,171.84 L211.87,173.26 L212.01,174.40 L212.15,175.26 L212.29,175.84 L212.43,176.14 L212.57,176.15 L212.71,175.89 L212.85,175.35 L212.99,174.54 L213.13,173.45 L213.28,172.09 L213.42,170.47 L213.56,168.59 L213.70,166.45 L213.84,164.06 L213.98,161.42 L214.12,158.55 L214.26,155.45 L214.40,152.13 L214.54,148.61 L214.68,144.90 L214.82,141.01 L214.96,136.96 L215.10,132.76 L215.24,128.45 L215.38,124.04 L215.52,119.55 L215.66,115.03 L215.80,110.48 L215.94,105.96 L216.08,101.48 L216.23,97.09 L216.37,92.82 L216.51,88.71 L216.65,84.79 L216.79,81.10 L216.93,77.68 L217.07,74.57 L217.21,71.78 L217.35,69.36 L217.49,67.33 L217.63,65.71 L217.77,64.52 L217.91,63.76 L218.05,63.45 L218.19,63.59 L218.33,64.17 L218.47,65.18 L218.61,66.62 L218.75,68.45 L218.89,70.66 L219.04,73.22 L219.18,76.10 L219.32,79.27 L219.46,82.69 L219.60,86.34 L219.74,90.17 L219.88,94.15 L220.02,98.25 L220.16,102.43 L220.30,106.66 L220.44,110.92 L220.58,115.16 L220.72,119.38 L220.86,123.54 L221.00,127.62 L221.14,131.60 L221.28,135.46 L221.42,139.19 L221.56,142.77 L221.70,146.20 L221.84,149.45 L221.99,152.53 L222.13,155.42 L222.27,158.11 L222.41,160.61 L222.55,162.90 L222.69,164.98 L222.83,166.85 L222.97,168.51 L223.11,169.96 L223.25,171.18 L223.39,172.19 L223.53,172.99 L223.67,173.56 L223.81,173.92 L223.95,174.07 L224.09,173.99 L224.23,173.70 L224.37,173.20 L224.51,172.49 L224.65,171.56 L224.80,170.43 L224.94,169.09 L225.08,167.55 L225.22,165.80 L225.36,163.87 L225.50,161.73 L225.64,159.42 L225.78,156.91 L225.92,154.24 L226.06,151.39 L226.20,148.38 L226.34,145.21 L226.48,141.90 L226.62,138.46 L226.76,134.89 L226.90,131.21 L227.04,127.44 L227.18,123.59 L227.32,119.67 L227.46,115.70 L227.60,111.71 L227.75,107.72 L227.89,103.73 L228.03,99.79 L228.17,95.91 L228.31,92.11 L228.45,88.42 L228.59,84.87 L228.73,81.47 L228.87,78.26 L229.01,75.27 L229.15,72.50 L229.29,69.99 L229.43,67.75 L229.57,65.80 L229.71,64.16 L229.85,62.85 L229.99,61.86 L230.13,61.22 L230.27,60.92 L230.41,60.96 L230.56,61.35 L230.70,62.07 L230.84,63.12 L230.98,64.50 L231.12,66.17 L231.26,68.14 L231.40,70.37 L231.54,72.86 L231.68,75.58 L231.82,78.50 L231.96,81.61 L232.10,84.87 L232.24,88.27 L232.38,91.79 L232.52,95.40 L232.66,99.07 L232.80,102.79 L232.94,106.54 L233.08,110.29 L233.22,114.03 L233.36,117.73 L233.51,121.40 L233.65,125.00 L233.79,128.52 L233.93,131.96 L234.07,135.31 L234.21,138.54 L234.35,141.66 L234.49,144.65 L234.63,147.51 L234.77,150.24 L234.91,152.82 L235.05,155.25 L235.19,157.53 L235.33,159.65 L235.47,161.62 L235.61,163.42 L235.75,165.07 L235.89,166.55 L236.03,167.86 L236.17,169.01 L236.32,169.99 L236.46,170.81 L236.60,171.45 L236.74,171.93 L236.88,172.25 L237.02,172.39 L237.16,172.37 L237.30,172.19 L237.44,171.84 L237.58,171.32 L237.72,170.65 L237.86,169.81 L238.00,168.81 L238.14,167.66 L238.28,166.34 L238.42,164.88 L238.56,163.26 L238.70,161.49 L238.84,159.58 L238.98,157.53 L239.12,155.33 L239.27,153.00 L239.41,150.54 L239.55,147.96 L239.69,145.25 L239.83,142.43 L239.97,139.50 L240.11,136.48 L240.25,133.36 L240.39,130.16 L240.53,126.88 L240.67,123.54 L240.81,120.14 L240.95,116.71 L241.09,113.24 L241.23,109.76 L241.37,106.28 L241.51,102.80 L241.65,99.35 L241.79,95.95 L241.93,92.59 L242.08,89.32 L242.22,86.13 L242.36,83.05 L242.50,80.09 L242.64,77.27 L242.78,74.60 L242.92,72.10 L243.06,69.79 L243.20,67.67 L243.34,65.76 L243.48,64.07 L243.62,62.62 L243.76,61.40 L243.90,60.44 L244.04,59.72 L244.18,59.26 L244.32,59.06 L244.46,59.11 L244.60,59.42 L244.74,59.98 L244.88,60.79 L245.03,61.84 L245.17,63.12 L245.31,64.62 L245.45,66.34 L245.59,68.25 L245.73,70.34 L245.87,72.61 L246.01,75.04 L246.15,77.60 L246.29,80.30 L246.43,83.11 L246.57,86.01 L246.71,89.00 L246.85,92.05 L246.99,95.16 L247.13,98.30 L247.27,101.47 L247.41,104.66 L247.55,107.84 L247.69,111.01 L247.84,114.16 L247.98,117.27 L248.12,120.35 L248.26,123.37 L248.40,126.33 L248.54,129.22 L248.68,132.04 L248.82,134.78 L248.96,137.43 L249.10,140.00 L249.24,142.46 L249.38,144.83 L249.52,147.09 L249.66,149.24 L249.80,151.29 L249.94,153.22 L250.08,155.04 L250.22,156.74 L250.36,158.32 L250.50,159.79 L250.64,161.13 L250.79,162.35 L250.93,163.45 L251.07,164.43 L251.21,165.29 L251.35,166.02 L251.49,166.63 L251.63,167.12 L251.77,167.48 L251.91,167.72 L252.05,167.84 L252.19,167.84 L252.33,167.71 L252.47,167.47 L252.61,167.10 L252.75,166.62 L252.89,166.01 L253.03,165.29 L253.17,164.45 L253.31,163.50 L253.45,162.43 L253.60,161.24 L253.74,159.95 L253.88,158.54 L254.02,157.03 L254.16,155.41 L254.30,153.69 L254.44,151.86 L254.58,149.94 L254.72,147.92 L254.86,145.80 L255.00,143.60 L255.14,141.31 L255.28,138.94 L255.42,136.50 L255.56,133.97 L255.70,131.39 L255.84,128.73 L255.98,126.03 L256.12,123.27 L256.26,120.46 L256.40,117.62 L256.55,114.75 L256.69,111.86 L256.83,108.95 L256.97,106.03 L257.11,103.12 L257.25,100.22 L257.39,97.33 L257.53,94.48 L257.67,91.67 L257.81,88.91 L257.95,86.20 L258.09,83.57 L258.23,81.01 L258.37,78.55 L258.51,76.18 L258.65,73.92 L258.79,71.79 L258.93,69.78 L259.07,67.90 L259.21,66.17 L259.36,64.60 L259.50,63.18 L259.64,61.92 L259.78,60.84 L259.92,59.93 L260.06,59.21 L260.20,58.66 L260.34,58.30 L260.48,58.12 L260.62,58.13 L260.76,58.32 L260.90,58.69 L261.04,59.25 L261.18,59.98 L261.32,60.88 L261.46,61.95 L261.60,63.17 L261.74,64.56 L261.88,66.09 L262.02,67.75 L262.16,69.55 L262.31,71.47 L262.45,73.51 L262.59,75.65 L262.73,77.88 L262.87,80.20 L263.01,82.60 L263.15,85.06 L263.29,87.59 L263.43,90.16 L263.57,92.77 L263.71,95.41 L263.85,98.07 L263.99,100.75 L264.13,103.43 L264.27,106.12 L264.41,108.79 L264.55,111.45 L264.69,114.09 L264.83,116.70 L264.97,119.28 L265.12,121.82 L265.26,124.31 L265.40,126.76 L265.54,129.15 L265.68,131.49 L265.82,133.76 L265.96,135.97 L266.10,138.11 L266.24,140.19 L266.38,142.18 L266.52,144.11 L266.66,145.95 L266.80,147.72 L266.94,149.41 L267.08,151.01 L267.22,152.53 L267.36,153.97 L267.50,155.32 L267.64,156.58 L267.78,157.75 L267.92,158.84 L268.07,159.83 L268.21,160.74 L268.35,161.56 L268.49,162.29 L268.63,162.92 L268.77,163.47 L268.91,163.93 L269.05,164.30 L269.19,164.57 L269.33,164.76 L269.47,164.86 L269.61,164.87 L269.75,164.78 L269.89,164.61 L270.03,164.35 L270.17,164.00 L270.31,163.57 L270.45,163.05 L270.59,162.44 L270.73,161.74 L270.88,160.96 L271.02,160.10 L271.16,159.15 L271.30,158.12 L271.44,157.01 L271.58,155.82 L271.72,154.55 L271.86,153.20 L272.00,151.77 L272.14,150.27 L272.28,148.70 L272.42,147.06 L272.56,145.34 L272.91,140.76 L273.26,135.80 L273.61,130.49 L273.97,124.89 L274.32,119.04 L274.67,113.02 L275.02,106.90 L275.37,100.75 L275.72,94.67 L276.07,88.74 L276.42,83.06 L276.78,77.73 L277.13,72.85 L277.48,68.51 L277.83,64.79 L278.18,61.78 L278.53,59.52 L278.88,58.07 L279.23,57.46 L279.59,57.68 L279.94,58.74 L280.29,60.59 L280.64,63.18 L280.99,66.47 L281.34,70.36 L281.69,74.79 L282.04,79.65 L282.40,84.86 L282.75,90.32 L283.10,95.96 L283.45,101.68 L283.80,107.41 L284.15,113.08 L284.50,118.63 L284.85,123.99 L285.20,129.13 L285.56,134.01 L285.91,138.58 L286.26,142.82 L286.61,146.71 L286.96,150.23 L287.31,153.36 L287.66,156.10 L288.01,158.43 L288.37,160.35 L288.72,161.87 L289.07,162.96 L289.42,163.65 L289.77,163.92 L290.12,163.78 L290.47,163.23 L290.82,162.29 L291.18,160.94 L291.53,159.21 L291.88,157.10 L292.23,154.61 L292.58,151.77 L292.93,148.58 L293.28,145.07 L293.63,141.24 L293.99,137.13 L294.34,132.75 L294.69,128.13 L295.04,123.32 L295.39,118.33 L295.74,113.22 L296.09,108.03 L296.44,102.80 L296.80,97.60 L297.15,92.46 L297.50,87.46 L297.85,82.65 L298.20,78.09 L298.55,73.84 L298.90,69.96 L299.25,66.51 L299.60,63.52 L299.96,61.05 L300.31,59.13 L300.66,57.79 L301.01,57.05 L301.36,56.91 L301.71,57.37 L302.06,58.41 L302.41,60.02 L302.77,62.17 L303.12,64.81 L303.47,67.91 L303.82,71.41 L304.17,75.26 L304.52,79.40 L304.87,83.78 L305.22,88.35 L305.58,93.05 L305.93,97.83 L306.28,102.64 L306.63,107.43 L306.98,112.17 L307.33,116.82 L307.68,121.35 L308.03,125.72 L308.39,129.91 L308.74,133.89 L309.09,137.66 L309.44,141.18 L309.79,144.46 L310.14,147.47 L310.49,150.20 L310.84,152.66 L311.20,154.84 L311.55,156.73 L311.90,158.34 L312.25,159.66 L312.60,160.68 L312.95,161.39 L313.30,161.78 L313.65,161.85 L314.00,161.60 L314.36,161.01 L314.71,160.10 L315.06,158.85 L315.41,157.28 L315.76,155.38 L316.11,153.16 L316.46,150.62 L316.81,147.78 L317.17,144.64 L317.52,141.22 L317.87,137.54 L318.22,133.62 L318.57,129.47 L318.92,125.13 L319.27,120.62 L319.62,115.98 L319.98,111.24 L320.33,106.44 L320.68,101.62 L321.03,96.82 L321.38,92.10 L321.73,87.49 L322.08,83.05 L322.43,78.82 L322.79,74.84 L323.14,71.15 L323.49,67.80 L323.84,64.82 L324.19,62.24 L324.54,60.07 L324.89,58.34 L325.24,57.05 L325.60,56.21 L325.95,55.81 L326.30,55.83 L326.65,56.28 L327.00,57.11 L327.35,58.31 L327.70,59.85 L328.05,61.71 L328.40,63.84 L328.76,66.23 L329.11,68.84 L329.46,71.65 L329.81,74.62 L330.16,77.73 L330.51,80.96 L330.86,84.27 L331.21,87.66 L331.57,91.09 L331.92,94.55 L332.27,98.02 L332.62,101.48 L332.97,104.92 L333.32,108.33 L333.67,111.69 L334.02,114.99 L334.38,118.22 L334.73,121.38 L335.08,124.44 L335.43,127.42 L335.78,130.29 L336.13,133.06 L336.48,135.72 L336.83,138.26 L337.19,140.68 L337.54,142.97 L337.89,145.13 L338.24,147.15 L338.59,149.03 L338.94,150.77 L339.29,152.36 L339.64,153.79 L340.00,155.07 L340.35,156.19 L340.70,157.13 L341.05,157.91 L341.40,158.51 L341.75,158.93 L342.10,159.16 L342.45,159.20 L342.80,159.04 L343.16,158.69 L343.51,158.14 L343.86,157.40 L344.21,156.46 L344.56,155.34 L344.91,154.04 L345.26,152.55 L345.61,150.88 L345.97,149.03 L346.32,147.02 L346.67,144.84 L347.02,142.50 L347.37,140.01 L347.72,137.37 L348.07,134.59 L348.42,131.68 L348.78,128.64 L349.13,125.50 L349.48,122.26 L349.83,118.92 L350.18,115.51 L350.53,112.04 L350.88,108.53 L351.23,104.98 L351.59,101.41 L351.94,97.85 L352.29,94.30 L352.64,90.80 L352.99,87.35 L353.34,83.98 L353.69,80.71 L354.04,77.55 L354.40,74.53 L354.75,71.67 L355.10,68.98 L355.45,66.48 L355.80,64.20 L356.15,62.14 L356.50,60.31 L356.85,58.74 L357.20,57.43 L357.56,56.39 L357.91,55.63 L358.26,55.15 L358.61,54.95 L358.96,55.03 L359.31,55.39 L359.66,56.02 L360.01,56.92 L360.37,58.08 L360.72,59.49 L361.07,61.12 L361.42,62.98 L361.77,65.04 L362.12,67.30 L362.47,69.72 L362.82,72.30 L363.18,75.02 L363.53,77.87 L363.88,80.81 L364.23,83.84 L364.58,86.94 L364.93,90.10 L365.28,93.29 L365.63,96.50 L365.99,99.72 L366.34,102.94 L366.69,106.13 L367.04,109.30 L367.39,112.42 L367.74,115.49 L368.09,118.49 L368.44,121.43 L368.80,124.28 L369.15,127.05 L369.50,129.73 L369.85,132.30 L370.20,134.77 L370.55,137.13 L370.90,139.38 L371.25,141.50 L371.60,143.51 L371.96,145.39 L372.31,147.15 L372.66,148.77 L373.01,150.27 L373.36,151.63 L373.71,152.86 L374.06,153.95 L374.41,154.91 L374.77,155.73 L375.12,156.42 L375.47,156.96 L375.82,157.38 L376.17,157.65 L376.52,157.78 L376.87,157.78 L377.22,157.64 L377.58,157.37 L377.93,156.95 L378.28,156.40 L378.63,155.72 L378.98,154.90 L379.33,153.94 L379.68,152.86 L380.03,151.64 L380.39,150.29 L380.74,148.82 L381.09,147.22 L381.44,145.49 L381.79,143.65 L382.14,141.70 L382.49,139.63 L382.84,137.45 L383.20,135.17 L383.55,132.79 L383.90,130.31 L384.25,127.75 L384.60,125.11 L384.95,122.39 L385.30,119.61 L385.65,116.77 L386.00,113.88 L386.36,110.94 L386.71,107.97 L387.06,104.98 L387.41,101.98 L387.76,98.98 L388.11,95.98 L388.46,93.00 L388.81,90.06 L389.17,87.16 L389.52,84.32 L389.87,81.55 L390.22,78.85 L390.57,76.25 L390.92,73.75 L391.27,71.37 L391.62,69.11 L391.98,66.99 L392.33,65.01 L392.68,63.19 L393.03,61.53 L393.38,60.05 L393.73,58.74 L394.08,57.61 L394.43,56.67 L394.79,55.92 L395.14,55.36 L395.49,54.99 L395.84,54.82 L396.19,54.84 L396.54,55.04 L396.89,55.43 L397.24,56.01 L397.60,56.77 L397.95,57.69 L398.30,58.79 L398.65,60.05 L399.00,61.46 L399.35,63.02 L399.70,64.71 L400.05,66.54 L400.40,68.48 L400.76,70.53 L401.11,72.69 L401.46,74.93 L401.81,77.26 L402.16,79.65 L402.51,82.11 L402.86,84.62 L403.21,87.16 L403.57,89.75 L403.92,92.35 L404.27,94.97 L404.62,97.60 L404.97,100.23 L405.32,102.85 L405.67,105.45 L406.02,108.03 L406.38,110.59 L406.73,113.10 L407.08,115.58 L407.43,118.01 L407.78,120.39 L408.13,122.72 L408.48,124.99 L408.83,127.19 L409.19,129.33 L409.54,131.39 L409.89,133.39 L410.24,135.31 L410.59,137.15 L410.94,138.92 L411.29,140.60 L411.64,142.20 L412.00,143.71 L412.35,145.14 L412.70,146.48 L413.05,147.73 L413.40,148.89 L413.75,149.97 L414.10,150.95 L414.45,151.84 L414.80,152.65 L415.16,153.36 L415.51,153.98 L415.86,154.50 L416.21,154.94 L416.56,155.29 L416.91,155.54 L417.26,155.70 L417.61,155.78 L417.97,155.76 L418.32,155.65 L418.67,155.45 L419.02,155.16 L419.37,154.78 L419.72,154.31 L420.07,153.74 L420.42,153.08 L420.78,152.34 L421.13,151.50 L421.48,150.57 L421.83,149.56 L422.18,148.45 L422.53,147.26 L422.88,145.98 L423.23,144.62 L423.59,143.17 L423.94,141.64 L424.29,140.03 L424.64,138.35 L424.99,136.59 L425.34,134.75 L425.69,132.85 L426.04,130.87 L426.40,128.84 L426.75,126.74 L427.10,124.58 L427.45,122.38 L427.80,120.12 L428.15,117.82 L428.50,115.47 L428.85,113.10 L429.20,110.69 L429.56,108.26 L429.91,105.80 L430.26,103.34 L430.61,100.87 L430.96,98.39 L431.31,95.92 L431.66,93.47 L432.01,91.03 L432.37,88.61 L432.72,86.23 L433.07,83.89 L433.42,81.59 L433.77,79.34 L434.12,77.16 L434.47,75.04 L434.82,72.99 L435.18,71.02 L435.53,69.13 L435.88,67.33 L436.23,65.63 L436.58,64.03 L436.93,62.54 L437.28,61.15 L437.63,59.88 L437.99,58.72 L438.34,57.68 L438.69,56.77 L439.04,55.98 L439.39,55.31 L439.74,54.77 L440.09,54.35 L440.44,54.07 L440.80,53.90 L441.15,53.86 L441.50,53.94 L441.85,54.14 L442.20,54.46 L442.55,54.90 L442.90,55.45 L443.25,56.11 L443.60,56.87 L443.96,57.74 L444.31,58.71 L444.66,59.78 L445.01,60.94 L445.36,62.19 L445.71,63.52 L446.06,64.93 L446.41,66.41 L446.77,67.97 L447.12,69.58 L447.47,71.26 L447.82,72.99 L448.17,74.77 L448.87,78.47 L449.58,82.31 L450.28,86.25 L450.98,90.26 L451.68,94.32 L452.39,98.38 L453.09,102.42 L453.79,106.42 L454.49,110.35 L455.20,114.19 L455.90,117.92 L456.60,121.52 L457.30,124.99 L458.00,128.30 L458.71,131.44 L459.41,134.42 L460.11,137.21 L460.81,139.81 L461.52,142.22 L462.22,144.43 L462.92,146.43 L463.62,148.23 L464.33,149.82 L465.03,151.20 L465.73,152.36 L466.43,153.31 L467.14,154.05 L467.84,154.57 L468.54,154.88 L469.24,154.97 L469.95,154.85 L470.65,154.52 L471.35,153.98 L472.05,153.23 L472.76,152.28 L473.46,151.13 L474.16,149.79 L474.86,148.26 L475.57,146.55 L476.27,144.65 L476.97,142.58 L477.67,140.35 L478.38,137.95 L479.08,135.40 L479.78,132.70 L480.48,129.87 L481.19,126.91 L481.89,123.83 L482.59,120.64 L483.29,117.37 L484.00,114.01 L484.70,110.58 L485.40,107.10 L486.10,103.58 L486.80,100.03 L487.51,96.49 L488.21,92.96 L488.91,89.46 L489.61,86.01 L490.32,82.64 L491.02,79.35 L491.72,76.18 L492.42,73.14 L493.13,70.26 L493.83,67.54 L494.53,65.02 L495.23,62.70 L495.94,60.61 L496.64,58.76 L497.34,57.17 L498.04,55.85 L498.75,54.80 L499.45,54.04 L500.15,53.56 L500.85,53.39 L501.56,53.51 L502.26,53.92 L502.96,54.62 L503.66,55.60 L504.37,56.85 L505.07,58.36 L505.77,60.11 L506.47,62.08 L507.18,64.27 L507.88,66.65 L508.58,69.20 L509.28,71.90 L509.99,74.74 L510.69,77.70 L511.39,80.75 L512.09,83.88 L512.80,87.06 L513.50,90.29 L514.20,93.54 L514.90,96.79 L515.60,100.04 L516.31,103.27 L517.01,106.45 L517.71,109.60 L518.41,112.68 L519.12,115.69 L519.82,118.62 L520.52,121.47 L521.22,124.21 L521.93,126.86 L522.63,129.39 L523.33,131.81 L524.03,134.12 L524.74,136.30 L525.44,138.35 L526.14,140.27 L526.84,142.06 L527.55,143.72 L528.25,145.24 L528.95,146.62 L529.65,147.86 L530.36,148.97 L531.06,149.94 L531.76,150.76 L532.46,151.45 L533.17,152.00 L533.87,152.42 L534.57,152.69 L535.27,152.83 L535.98,152.83 L536.68,152.70 L537.38,152.43 L538.08,152.03 L538.79,151.49 L539.49,150.81 L540.19,149.99 L540.89,149.05 L541.60,147.96 L542.30,146.75 L543.00,145.40 L543.70,143.93 L544.40,142.33 L545.11,140.60 L545.81,138.76 L546.51,136.81 L547.21,134.74 L547.92,132.57 L548.62,130.30 L549.32,127.93 L550.02,125.48 L550.73,122.95 L551.43,120.35 L552.13,117.68 L552.83,114.95 L553.54,112.18 L554.24,109.37 L554.94,106.54 L555.64,103.69 L556.35,100.83 L557.05,97.98 L557.75,95.15 L558.45,92.34 L559.16,89.58 L559.86,86.87 L560.56,84.22 L561.26,81.64 L561.97,79.15 L562.67,76.76 L563.37,74.48 L564.07,72.31 L564.78,70.27 L565.48,68.36 L566.18,66.60 L566.88,64.98 L567.59,63.51 L568.29,62.21 L568.99,61.06 L569.69,60.08 L570.40,59.27 L571.10,58.62 L571.80,58.14 L572.50,57.82 L573.20,57.66 L573.91,57.66 L574.61,57.81 L575.31,58.12 L576.01,58.58 L576.72,59.19 L577.42,59.94 L578.12,60.83 L578.82,61.85 L579.53,62.99 L580.23,64.26 L580.93,65.64 L581.63,67.12 L582.34,68.71 L583.04,70.39 L583.74,72.15 L584.44,73.99 L585.15,75.90 L585.85,77.88 L586.55,79.91 L587.25,81.99 L587.96,84.10 L588.66,86.26 L589.36,88.44 L590.06,90.64 L590.77,92.85 L591.47,95.07 L592.17,97.30 L592.87,99.52 L593.58,101.73 L594.28,103.93 L594.98,106.11 L595.68,108.27 L596.39,110.40 L597.09,112.49 L597.79,114.56 L598.49,116.58 L599.20,118.56 L599.90,120.50 L600.60,122.39 L601.30,124.23 L602.00,126.01 L602.71,127.74 L603.41,129.42 L604.11,131.03 L604.81,132.58 L605.52,134.08 L606.22,135.51 L606.92,136.87 L607.62,138.17 L608.33,139.41 L609.03,140.57 L609.73,141.67 L610.43,142.70 L611.14,143.66 L611.84,144.55 L612.54,145.37 L613.24,146.13 L613.95,146.81 L614.65,147.42 L615.35,147.96 L616.05,148.43 L616.76,148.83 L617.46,149.16 L618.16,149.42 L618.86,149.61 L619.57,149.72 L620.27,149.77 L620.97,149.75 L621.67,149.66 L622.38,149.50 L623.08,149.27 L623.78,148.97 L624.48,148.61 L625.19,148.18 L625.89,147.68 L626.59,147.12 L627.29,146.49 L628.00,145.79 L628.70,145.04 L629.40,144.22 L630.10,143.34 L630.80,142.41 L631.51,141.41 L632.21,140.35 L632.91,139.24 L633.61,138.08 L634.32,136.86 L635.02,135.58 L635.72,134.26 L636.42,132.89 L637.13,131.47 L637.83,130.00 L638.53,128.49 L639.23,126.94 L639.94,125.34 L640.64,123.71 L641.34,122.04 L642.04,120.34 L642.75,118.60 L643.45,116.84 L644.15,115.05 L644.85,113.23 L645.56,111.39 L646.26,109.54 L646.96,107.66 L647.66,105.78 L648.37,103.88 L649.07,101.98 L649.77,100.07 L650.47,98.16 L651.18,96.25 L651.88,94.34 L652.58,92.45 L653.28,90.57 L653.99,88.70 L654.69,86.85 L655.39,85.03 L656.09,83.23 L656.80,81.46 L657.50,79.72 L658.20,78.02 L658.90,76.36 L659.60,74.74 L660.31,73.17 L661.01,71.65 L661.71,70.18 L662.41,68.77 L663.12,67.42 L663.82,66.13 L664.52,64.91 L665.22,63.75 L665.93,62.67 L666.63,61.65 L667.33,60.71 L668.03,59.85 L668.74,59.07 L669.44,58.36 L670.14,57.74 L670.84,57.20 L671.55,56.75 L672.25,56.38 L672.95,56.09 L673.65,55.89 L674.36,55.77 L675.06,55.74 L675.76,55.80 L676.46,55.94 L677.17,56.16 L677.87,56.47 L678.57,56.85 L679.27,57.32 L679.98,57.87 L680.68,58.49 L681.38,59.19 L682.08,59.96 L682.79,60.81 L683.49,61.72 L684.19,62.70 L684.89,63.75 L685.60,64.86 L686.30,66.02 L687.00,67.24 L687.70,68.52 L688.40,69.84 L689.11,71.21 L689.81,72.63 L690.51,74.09 L691.21,75.58 L691.92,77.11 L692.62,78.67 L693.32,80.26 L694.02,81.87 L694.73,83.51 L695.43,85.16 L696.13,86.83 L696.83,88.52 L697.54,90.22 L698.24,91.92 L698.94,93.63 L699.64,95.34 L700.35,97.05 L701.05,98.76 L701.75,100.46 L702.45,102.16 L703.16,103.84 L703.86,105.52 L704.56,107.18 L705.26,108.82 L705.97,110.45 L706.67,112.06 L707.37,113.65 L708.07,115.22 L708.78,116.76 L709.48,118.27 L710.18,119.76 L710.88,121.23 L711.59,122.66 L712.29,124.06 L712.99,125.43 L713.69,126.77 L714.40,128.08 L715.10,129.35 L715.80,130.59 L716.50,131.79 L717.20,132.95 L717.91,134.08 L718.61,135.18 L719.31,136.23 L720.01,137.25 L720.72,138.22 L721.42,139.16 L722.12,140.06 L722.82,140.93 L723.53,141.75 L724.23,142.53 L724.93,143.27 L725.63,143.97 L726.34,144.64 L727.04,145.26 L727.74,145.84 L728.44,146.38 L729.15,146.89 L729.85,147.35 L730.55,147.77 L731.25,148.16 L731.96,148.50 L732.66,148.81 L733.36,149.07 L734.06,149.30 L734.77,149.49 L735.47,149.64 L736.17,149.75 L736.87,149.83 L737.58,149.86 L738.28,149.86 L738.98,149.83 L739.68,149.75 L740.39,149.64 L741.09,149.50 L741.79,149.32 L742.49,149.10 L743.20,148.84 L743.90,148.56 L744.60,148.23 L745.30,147.87 L746.00,147.48 L746.71,147.06 L747.41,146.60 L748.11,146.10 L748.81,145.58 L749.52,145.02 L750.22,144.43 L750.92,143.81 L751.62,143.15 L752.33,142.47 L753.03,141.76 L753.73,141.01 L754.43,140.24 L755.14,139.44 L755.84,138.60 L756.54,137.74 L757.24,136.86 L757.95,135.95 L758.65,135.01 L759.35,134.04 L760.05,133.05 L760.76,132.04 L761.46,131.00 L762.16,129.94 L762.86,128.85 L763.57,127.75 L764.27,126.62 L764.97,125.47 L765.67,124.31 L766.38,123.12 L767.08,121.92 L767.78,120.70 L768.48,119.46 L769.19,118.21 L769.89,116.95 L770.59,115.67 L771.29,114.38 L772.00,113.07 L772.70,111.76 L773.40,110.44 L774.10,109.10 L774.80,107.76 L775.51,106.42 L776.21,105.06 L776.91,103.71 L777.61,102.35 L778.32,100.99 L779.02,99.62 L779.72,98.26 L780.42,96.90 L781.13,95.54 L781.83,94.19 L782.53,92.84 L783.23,91.49 L783.94,90.15 L784.64,88.83 L785.34,87.51 L786.04,86.20 L786.75,84.90 L787.45,83.62 L788.15,82.35 L788.85,81.10 L789.56,79.87 L790.26,78.65 L790.96,77.45 L791.66,76.28 L792.37,75.12 L793.07,73.99 L793.77,72.89 L794.47,71.80 L795.18,70.75 L795.88,69.72 L796.58,68.72 L797.28,67.75 L797.99,66.81 L798.69,65.91 L799.39,65.03" stroke="#1fc0e8" stroke-width="3.9" stroke-linecap="round"/>
<path d="M148.93,494.34 L149.07,494.30 L149.21,494.26 L149.35,494.22 L149.49,494.18 L149.63,494.14 L149.77,494.09 L149.92,494.04 L150.06,494.00 L150.20,493.94 L150.34,493.89 L150.48,493.84 L150.62,493.78 L150.76,493.73 L150.90,493.67 L151.04,493.61 L151.18,493.55 L151.32,493.48 L151.46,493.42 L151.60,493.35 L151.74,493.28 L151.88,493.18 L152.02,493.01 L152.16,492.78 L152.30,492.49 L152.44,492.13 L152.58,491.71 L152.72,491.24 L152.87,490.70 L153.01,490.11 L153.15,489.46 L153.29,488.75 L153.43,487.99 L153.57,487.18 L153.71,486.31 L153.85,485.39 L153.99,484.43 L154.13,483.41 L154.27,482.35 L154.41,481.23 L154.55,480.08 L154.69,478.88 L154.83,477.63 L154.97,476.34 L155.11,475.01 L155.25,473.64 L155.39,472.23 L155.53,470.79 L155.68,469.30 L155.82,467.78 L155.96,466.23 L156.10,464.64 L156.24,463.01 L156.38,461.36 L156.52,459.67 L156.66,457.96 L156.80,456.22 L156.94,454.44 L157.08,452.65 L157.22,450.57 L157.36,448.02 L157.50,445.03 L157.64,441.68 L157.78,438.02 L157.92,434.12 L158.06,430.02 L158.20,425.80 L158.34,421.52 L158.48,417.22 L158.63,412.98 L158.77,408.84 L158.91,404.88 L159.05,401.15 L159.19,397.54 L159.33,393.92 L159.47,390.29 L159.61,386.66 L159.75,383.03 L159.89,379.42 L160.03,375.83 L160.17,372.26 L160.31,368.72 L160.45,365.22 L160.59,361.77 L160.73,358.36 L160.87,355.01 L161.01,351.73 L161.15,348.52 L161.29,345.36 L161.44,342.27 L161.58,339.24 L161.72,336.27 L161.86,333.36 L162.00,330.49 L162.14,327.66 L162.28,324.84 L162.42,322.03 L162.56,319.22 L162.70,316.38 L162.84,313.52 L162.98,310.62 L163.12,307.70 L163.26,304.75 L163.40,301.78 L163.54,298.81 L163.68,295.85 L163.82,292.91 L163.96,290.00 L164.10,287.13 L164.24,284.30 L164.39,281.51 L164.53,278.73 L164.67,275.95 L164.81,273.02 L164.95,269.96 L165.09,266.78 L165.23,263.48 L165.37,260.08 L165.51,256.58 L165.65,253.01 L165.79,249.34 L165.93,245.60 L166.07,241.79 L166.21,237.92 L166.35,234.01 L166.49,230.10 L166.63,226.24 L166.77,222.49 L166.91,218.95 L167.05,215.64 L167.20,212.65 L167.34,210.12 L167.48,208.13 L167.62,206.77 L167.76,206.07 L167.90,206.02 L168.04,206.59 L168.18,207.70 L168.32,209.22 L168.46,211.04 L168.60,213.01 L168.74,214.97 L168.88,216.78 L169.02,218.32 L169.16,219.45 L169.30,220.09 L169.44,220.14 L169.58,219.54 L169.72,218.25 L169.86,216.22 L170.00,213.41 L170.15,209.81 L170.29,205.42 L170.43,200.25 L170.57,194.33 L170.71,187.73 L170.85,180.55 L170.99,172.90 L171.13,164.96 L171.27,156.93 L171.41,149.05 L171.55,141.60 L171.69,134.86 L171.83,129.12 L171.97,124.65 L172.11,121.64 L172.25,120.21 L172.39,120.36 L172.53,122.06 L172.67,125.20 L172.81,129.61 L172.96,135.05 L173.10,141.28 L173.24,148.03 L173.38,155.04 L173.52,162.08 L173.66,168.95 L173.80,175.47 L173.94,181.50 L174.08,186.93 L174.22,191.67 L174.36,195.66 L174.50,198.86 L174.64,201.22 L174.78,202.74 L174.92,203.40 L175.06,203.19 L175.20,202.13 L175.34,200.20 L175.48,197.44 L175.62,193.86 L175.76,189.48 L175.91,184.34 L176.05,178.49 L176.19,171.98 L176.33,164.90 L176.47,157.34 L176.61,149.41 L176.75,141.26 L176.89,133.05 L177.03,124.95 L177.17,117.18 L177.31,109.95 L177.45,103.46 L177.59,97.92 L177.73,93.51 L177.87,90.38 L178.01,88.62 L178.15,88.30 L178.29,89.40 L178.43,91.86 L178.57,95.56 L178.72,100.35 L178.86,106.04 L179.00,112.43 L179.14,119.32 L179.28,126.50 L179.42,133.78 L179.56,141.01 L179.70,148.04 L179.84,154.74 L179.98,161.02 L180.12,166.79 L180.26,171.99 L180.40,176.58 L180.54,180.51 L180.68,183.77 L180.82,186.34 L180.96,188.21 L181.10,189.37 L181.24,189.83 L181.38,189.57 L181.52,188.61 L181.67,186.96 L181.81,184.62 L181.95,181.61 L182.09,177.94 L182.23,173.64 L182.37,168.75 L182.51,163.29 L182.65,157.32 L182.79,150.91 L182.93,144.11 L183.07,137.03 L183.21,129.76 L183.35,122.43 L183.49,115.17 L183.63,108.12 L183.77,101.44 L183.91,95.29 L184.05,89.82 L184.19,85.18 L184.33,81.51 L184.48,78.89 L184.62,77.41 L184.76,77.10 L184.90,77.96 L185.04,79.96 L185.18,83.01 L185.32,87.02 L185.46,91.86 L185.60,97.39 L185.74,103.46 L185.88,109.92 L186.02,116.63 L186.16,123.44 L186.30,130.24 L186.44,136.91 L186.58,143.35 L186.72,149.50 L186.86,155.27 L187.00,160.61 L187.14,165.49 L187.28,169.87 L187.43,173.72 L187.57,177.02 L187.71,179.77 L187.85,181.94 L187.99,183.55 L188.13,184.57 L188.27,185.02 L188.41,184.90 L188.55,184.20 L188.69,182.94 L188.83,181.12 L188.97,178.75 L189.11,175.84 L189.25,172.40 L189.39,168.46 L189.53,164.04 L189.67,159.16 L189.81,153.86 L189.95,148.18 L190.09,142.18 L190.24,135.91 L190.38,129.44 L190.52,122.85 L190.66,116.23 L190.80,109.67 L190.94,103.29 L191.08,97.19 L191.22,91.49 L191.36,86.30 L191.50,81.73 L191.64,77.89 L191.78,74.84 L191.92,72.68 L192.06,71.43 L192.20,71.14 L192.34,71.79 L192.48,73.37 L192.62,75.82 L192.76,79.08 L192.90,83.07 L193.04,87.69 L193.19,92.83 L193.33,98.39 L193.47,104.26 L193.61,110.34 L193.75,116.52 L193.89,122.72 L194.03,128.85 L194.17,134.84 L194.31,140.62 L194.45,146.15 L194.59,151.37 L194.73,156.25 L194.87,160.75 L195.01,164.86 L195.15,168.55 L195.29,171.81 L195.43,174.63 L195.57,177.00 L195.71,178.92 L195.85,180.38 L196.00,181.38 L196.14,181.93 L196.28,182.02 L196.42,181.65 L196.56,180.84 L196.70,179.57 L196.84,177.87 L196.98,175.74 L197.12,173.18 L197.26,170.20 L197.40,166.83 L197.54,163.07 L197.68,158.94 L197.82,154.46 L197.96,149.67 L198.10,144.59 L198.24,139.26 L198.38,133.71 L198.52,128.01 L198.66,122.19 L198.80,116.33 L198.95,110.48 L199.09,104.71 L199.23,99.11 L199.37,93.75 L199.51,88.70 L199.65,84.04 L199.79,79.85 L199.93,76.21 L200.07,73.16 L200.21,70.77 L200.35,69.08 L200.49,68.11 L200.63,67.88 L200.77,68.39 L200.91,69.62 L201.05,71.55 L201.19,74.12 L201.33,77.30 L201.47,81.01 L201.61,85.18 L201.76,89.76 L201.90,94.65 L202.04,99.80 L202.18,105.12 L202.32,110.54 L202.46,116.01 L202.60,121.46 L202.74,126.84 L202.88,132.09 L203.02,137.18 L203.16,142.07 L203.30,146.73 L203.44,151.13 L203.58,155.24 L203.72,159.06 L203.86,162.55 L204.00,165.72 L204.14,168.56 L204.28,171.04 L204.42,173.18 L204.56,174.97 L204.71,176.40 L204.85,177.47 L204.99,178.18 L205.13,178.54 L205.27,178.54 L205.41,178.19 L205.55,177.49 L205.69,176.44 L205.83,175.05 L205.97,173.31 L206.11,171.25 L206.25,168.86 L206.39,166.15 L206.53,163.13 L206.67,159.81 L206.81,156.21 L206.95,152.34 L207.09,148.21 L207.23,143.86 L207.37,139.30 L207.52,134.55 L207.66,129.66 L207.80,124.64 L207.94,119.55 L208.08,114.41 L208.22,109.28 L208.36,104.20 L208.50,99.22 L208.64,94.38 L208.78,89.76 L208.92,85.39 L209.06,81.33 L209.20,77.63 L209.34,74.34 L209.48,71.50 L209.62,69.14 L209.76,67.31 L209.90,66.03 L210.04,65.30 L210.18,65.15 L210.32,65.56 L210.47,66.53 L210.61,68.03 L210.75,70.05 L210.89,72.55 L211.03,75.49 L211.17,78.83 L211.31,82.52 L211.45,86.51 L211.59,90.76 L211.73,95.21 L211.87,99.81 L212.01,104.52 L212.15,109.29 L212.29,114.08 L212.43,118.85 L212.57,123.56 L212.71,128.18 L212.85,132.68 L212.99,137.04 L213.13,141.22 L213.28,145.22 L213.42,149.01 L213.56,152.58 L213.70,155.92 L213.84,159.02 L213.98,161.86 L214.12,164.45 L214.26,166.77 L214.40,168.83 L214.54,170.61 L214.68,172.12 L214.82,173.36 L214.96,174.32 L215.10,175.00 L215.24,175.41 L215.38,175.54 L215.52,175.40 L215.66,174.99 L215.80,174.31 L215.94,173.36 L216.08,172.15 L216.23,170.67 L216.37,168.93 L216.51,166.95 L216.65,164.71 L216.79,162.23 L216.93,159.52 L217.07,156.57 L217.21,153.41 L217.35,150.04 L217.49,146.48 L217.63,142.73 L217.77,138.82 L217.91,134.76 L218.05,130.56 L218.19,126.26 L218.33,121.86 L218.47,117.41 L218.61,112.92 L218.75,108.43 L218.89,103.96 L219.04,99.56 L219.18,95.24 L219.32,91.06 L219.46,87.03 L219.60,83.21 L219.74,79.62 L219.88,76.31 L220.02,73.29 L220.16,70.61 L220.30,68.29 L220.44,66.36 L220.58,64.83 L220.72,63.72 L220.86,63.04 L221.00,62.79 L221.14,62.99 L221.28,63.62 L221.42,64.67 L221.56,66.13 L221.70,67.98 L221.84,70.20 L221.99,72.76 L222.13,75.63 L222.27,78.78 L222.41,82.18 L222.55,85.80 L222.69,89.60 L222.83,93.54 L222.97,97.60 L223.11,101.74 L223.25,105.94 L223.39,110.15 L223.53,114.36 L223.67,118.54 L223.81,122.67 L223.95,126.72 L224.09,130.67 L224.23,134.51 L224.37,138.23 L224.51,141.80 L224.65,145.21 L224.80,148.47 L224.94,151.54 L225.08,154.44 L225.22,157.15 L225.36,159.66 L225.50,161.98 L225.64,164.09 L225.78,165.99 L225.92,167.69 L226.06,169.18 L226.20,170.45 L226.34,171.52 L226.48,172.37 L226.62,173.01 L226.76,173.43 L226.90,173.65 L227.04,173.65 L227.18,173.44 L227.32,173.02 L227.46,172.39 L227.60,171.55 L227.75,170.51 L227.89,169.27 L228.03,167.83 L228.17,166.19 L228.31,164.35 L228.45,162.33 L228.59,160.11 L228.73,157.72 L228.87,155.15 L229.01,152.41 L229.15,149.51 L229.29,146.45 L229.43,143.25 L229.57,139.90 L229.71,136.44 L229.85,132.85 L229.99,129.17 L230.13,125.40 L230.27,121.55 L230.41,117.65 L230.56,113.71 L230.70,109.76 L230.84,105.80 L230.98,101.87 L231.12,97.98 L231.26,94.16 L231.40,90.44 L231.54,86.82 L231.68,83.35 L231.82,80.05 L231.96,76.93 L232.10,74.02 L232.24,71.34 L232.38,68.92 L232.52,66.77 L232.66,64.92 L232.80,63.36 L232.94,62.13 L233.08,61.22 L233.22,60.65 L233.36,60.41 L233.51,60.51 L233.65,60.95 L233.79,61.71 L233.93,62.80 L234.07,64.19 L234.21,65.89 L234.35,67.86 L234.49,70.09 L234.63,72.57 L234.77,75.28 L234.91,78.18 L235.05,81.26 L235.19,84.50 L235.33,87.87 L235.47,91.34 L235.61,94.91 L235.75,98.54 L235.89,102.22 L236.03,105.92 L236.17,109.63 L236.32,113.33 L236.46,117.00 L236.60,120.62 L236.74,124.18 L236.88,127.68 L237.02,131.08 L237.16,134.40 L237.30,137.60 L237.44,140.70 L237.58,143.67 L237.72,146.51 L237.86,149.22 L238.00,151.79 L238.14,154.21 L238.28,156.49 L238.42,158.61 L238.56,160.58 L238.70,162.39 L238.84,164.05 L238.98,165.54 L239.12,166.87 L239.27,168.04 L239.41,169.04 L239.55,169.88 L239.69,170.56 L239.83,171.08 L239.97,171.43 L240.11,171.62 L240.25,171.64 L240.39,171.51 L240.53,171.21 L240.67,170.76 L240.81,170.14 L240.95,169.37 L241.09,168.44 L241.23,167.36 L241.37,166.12 L241.51,164.73 L241.65,163.20 L241.79,161.52 L241.93,159.69 L242.08,157.73 L242.22,155.63 L242.36,153.39 L242.50,151.03 L242.64,148.55 L242.78,145.94 L242.92,143.22 L243.06,140.40 L243.20,137.47 L243.34,134.45 L243.48,131.34 L243.62,128.16 L243.76,124.91 L243.90,121.61 L244.04,118.25 L244.18,114.86 L244.32,111.45 L244.46,108.03 L244.60,104.61 L244.74,101.20 L244.88,97.82 L245.03,94.49 L245.17,91.22 L245.31,88.03 L245.45,84.93 L245.59,81.93 L245.73,79.06 L245.87,76.32 L246.01,73.74 L246.15,71.32 L246.29,69.09 L246.43,67.05 L246.57,65.21 L246.71,63.59 L246.85,62.19 L246.99,61.03 L247.13,60.10 L247.27,59.42 L247.41,58.99 L247.55,58.81 L247.69,58.88 L247.84,59.19 L247.98,59.75 L248.12,60.54 L248.26,61.57 L248.40,62.82 L248.54,64.29 L248.68,65.96 L248.82,67.82 L248.96,69.87 L249.10,72.08 L249.24,74.44 L249.38,76.95 L249.52,79.58 L249.66,82.32 L249.80,85.16 L249.94,88.08 L250.08,91.07 L250.22,94.11 L250.36,97.19 L250.50,100.30 L250.64,103.43 L250.79,106.56 L250.93,109.68 L251.07,112.78 L251.21,115.85 L251.35,118.89 L251.49,121.87 L251.63,124.81 L251.77,127.68 L251.91,130.48 L252.05,133.20 L252.19,135.85 L252.33,138.40 L252.47,140.87 L252.61,143.24 L252.75,145.51 L252.89,147.68 L253.03,149.75 L253.17,151.70 L253.31,153.55 L253.45,155.28 L253.60,156.90 L253.74,158.40 L253.88,159.78 L254.02,161.05 L254.16,162.20 L254.30,163.23 L254.44,164.14 L254.58,164.92 L254.72,165.59 L254.86,166.14 L255.00,166.57 L255.14,166.87 L255.28,167.06 L255.42,167.13 L255.56,167.08 L255.70,166.91 L255.84,166.62 L255.98,166.21 L256.12,165.69 L256.26,165.05 L256.40,164.30 L256.55,163.43 L256.69,162.46 L256.83,161.37 L256.97,160.16 L257.11,158.86 L257.25,157.44 L257.39,155.92 L257.53,154.30 L257.67,152.57 L257.81,150.75 L257.95,148.84 L258.09,146.83 L258.23,144.73 L258.37,142.54 L258.51,140.27 L258.65,137.92 L258.79,135.50 L258.93,133.01 L259.07,130.45 L259.21,127.84 L259.36,125.17 L259.50,122.45 L259.64,119.68 L259.78,116.89 L259.92,114.06 L260.06,111.21 L260.20,108.35 L260.34,105.48 L260.48,102.62 L260.62,99.76 L260.76,96.93 L260.90,94.12 L261.04,91.36 L261.18,88.64 L261.32,85.98 L261.46,83.39 L261.60,80.87 L261.74,78.44 L261.88,76.11 L262.02,73.88 L262.16,71.77 L262.31,69.78 L262.45,67.92 L262.59,66.20 L262.73,64.63 L262.87,63.21 L263.01,61.95 L263.15,60.86 L263.29,59.94 L263.43,59.19 L263.57,58.61 L263.71,58.22 L263.85,58.00 L263.99,57.96 L264.13,58.11 L264.27,58.43 L264.41,58.93 L264.55,59.60 L264.69,60.43 L264.83,61.44 L264.97,62.60 L265.12,63.91 L265.26,65.37 L265.40,66.96 L265.54,68.69 L265.68,70.54 L265.82,72.50 L265.96,74.57 L266.10,76.73 L266.24,78.98 L266.38,81.32 L266.52,83.72 L266.66,86.18 L266.80,88.69 L266.94,91.25 L267.08,93.84 L267.22,96.46 L267.36,99.10 L267.50,101.74 L267.64,104.40 L267.78,107.04 L267.92,109.68 L268.07,112.30 L268.21,114.89 L268.35,117.46 L268.49,119.99 L268.63,122.49 L268.77,124.93 L268.91,127.33 L269.05,129.68 L269.19,131.97 L269.33,134.20 L269.47,136.37 L269.61,138.46 L269.75,140.49 L269.89,142.45 L270.03,144.34 L270.17,146.15 L270.31,147.88 L270.45,149.53 L270.59,151.10 L270.73,152.58 L270.88,153.99 L271.02,155.31 L271.16,156.54 L271.30,157.69 L271.44,158.75 L271.58,159.73 L271.72,160.62 L271.86,161.42 L272.00,162.13 L272.14,162.75 L272.28,163.29 L272.42,163.73 L272.56,164.09 L272.91,164.60 L273.26,164.57 L273.61,163.98 L273.97,162.86 L274.32,161.21 L274.67,159.05 L275.02,156.38 L275.37,153.22 L275.72,149.59 L276.07,145.52 L276.42,141.03 L276.78,136.17 L277.13,130.95 L277.48,125.45 L277.83,119.70 L278.18,113.77 L278.53,107.73 L278.88,101.65 L279.23,95.62 L279.59,89.73 L279.94,84.06 L280.29,78.71 L280.64,73.79 L280.99,69.37 L281.34,65.54 L281.69,62.38 L282.04,59.95 L282.40,58.30 L282.75,57.45 L283.10,57.43 L283.45,58.23 L283.80,59.81 L284.15,62.14 L284.50,65.17 L284.85,68.82 L285.20,73.01 L285.56,77.66 L285.91,82.69 L286.26,88.00 L286.61,93.51 L286.96,99.14 L287.31,104.81 L287.66,110.44 L288.01,115.98 L288.37,121.37 L288.72,126.56 L289.07,131.50 L289.42,136.16 L289.77,140.52 L290.12,144.54 L290.47,148.20 L290.82,151.50 L291.18,154.42 L291.53,156.94 L291.88,159.07 L292.23,160.79 L292.58,162.12 L292.93,163.03 L293.28,163.55 L293.63,163.66 L293.99,163.37 L294.34,162.69 L294.69,161.61 L295.04,160.15 L295.39,158.32 L295.74,156.11 L296.09,153.55 L296.44,150.64 L296.80,147.40 L297.15,143.84 L297.50,139.99 L297.85,135.86 L298.20,131.47 L298.55,126.87 L298.90,122.07 L299.25,117.12 L299.60,112.06 L299.96,106.92 L300.31,101.76 L300.66,96.63 L301.01,91.58 L301.36,86.66 L301.71,81.94 L302.06,77.47 L302.41,73.31 L302.77,69.51 L303.12,66.13 L303.47,63.21 L303.82,60.80 L304.17,58.93 L304.52,57.62 L304.87,56.89 L305.22,56.75 L305.58,57.20 L305.93,58.22 L306.28,59.79 L306.63,61.89 L306.98,64.47 L307.33,67.50 L307.68,70.92 L308.03,74.69 L308.39,78.75 L308.74,83.05 L309.09,87.54 L309.44,92.16 L309.79,96.87 L310.14,101.61 L310.49,106.35 L310.84,111.05 L311.20,115.65 L311.55,120.15 L311.90,124.50 L312.25,128.67 L312.60,132.66 L312.95,136.43 L313.30,139.97 L313.65,143.27 L314.00,146.32 L314.36,149.10 L314.71,151.61 L315.06,153.84 L315.41,155.80 L315.76,157.48 L316.11,158.88 L316.46,159.99 L316.81,160.80 L317.17,161.30 L317.52,161.49 L317.87,161.36 L318.22,160.91 L318.57,160.14 L318.92,159.04 L319.27,157.63 L319.62,155.89 L319.98,153.84 L320.33,151.47 L320.68,148.81 L321.03,145.85 L321.38,142.61 L321.73,139.11 L322.08,135.36 L322.43,131.38 L322.79,127.19 L323.14,122.83 L323.49,118.32 L323.84,113.69 L324.19,108.98 L324.54,104.24 L324.89,99.49 L325.24,94.78 L325.60,90.16 L325.95,85.67 L326.30,81.36 L326.65,77.26 L327.00,73.43 L327.35,69.90 L327.70,66.71 L328.05,63.88 L328.40,61.45 L328.76,59.42 L329.11,57.83 L329.46,56.67 L329.81,55.94 L330.16,55.64 L330.51,55.76 L330.86,56.27 L331.21,57.16 L331.57,58.41 L331.92,59.98 L332.27,61.85 L332.62,63.99 L332.97,66.37 L333.32,68.97 L333.67,71.76 L334.02,74.70 L334.38,77.78 L334.73,80.97 L335.08,84.25 L335.43,87.59 L335.78,90.98 L336.13,94.40 L336.48,97.82 L336.83,101.24 L337.19,104.64 L337.54,108.00 L337.89,111.32 L338.24,114.58 L338.59,117.78 L338.94,120.90 L339.29,123.94 L339.64,126.89 L340.00,129.74 L340.35,132.49 L340.70,135.13 L341.05,137.66 L341.40,140.07 L341.75,142.35 L342.10,144.51 L342.45,146.54 L342.80,148.43 L343.16,150.18 L343.51,151.78 L343.86,153.24 L344.21,154.54 L344.56,155.69 L344.91,156.67 L345.26,157.48 L345.61,158.13 L345.97,158.60 L346.32,158.88 L346.67,158.98 L347.02,158.89 L347.37,158.60 L347.72,158.13 L348.07,157.46 L348.42,156.61 L348.78,155.57 L349.13,154.35 L349.48,152.95 L349.83,151.37 L350.18,149.62 L350.53,147.71 L350.88,145.62 L351.23,143.38 L351.59,140.99 L351.94,138.45 L352.29,135.77 L352.64,132.96 L352.99,130.02 L353.34,126.97 L353.69,123.82 L354.04,120.57 L354.40,117.25 L354.75,113.85 L355.10,110.40 L355.45,106.91 L355.80,103.40 L356.15,99.88 L356.50,96.36 L356.85,92.88 L357.20,89.44 L357.56,86.06 L357.91,82.76 L358.26,79.57 L358.61,76.50 L358.96,73.56 L359.31,70.79 L359.66,68.19 L360.01,65.78 L360.37,63.58 L360.72,61.61 L361.07,59.87 L361.42,58.38 L361.77,57.15 L362.12,56.18 L362.47,55.49 L362.82,55.06 L363.18,54.92 L363.53,55.04 L363.88,55.44 L364.23,56.11 L364.58,57.03 L364.93,58.21 L365.28,59.62 L365.63,61.26 L365.99,63.11 L366.34,65.17 L366.69,67.40 L367.04,69.81 L367.39,72.36 L367.74,75.05 L368.09,77.86 L368.44,80.77 L368.80,83.76 L369.15,86.82 L369.50,89.94 L369.85,93.09 L370.20,96.26 L370.55,99.44 L370.90,102.61 L371.25,105.77 L371.60,108.90 L371.96,111.99 L372.31,115.02 L372.66,118.00 L373.01,120.90 L373.36,123.73 L373.71,126.48 L374.06,129.14 L374.41,131.69 L374.77,134.15 L375.12,136.50 L375.47,138.74 L375.82,140.87 L376.17,142.87 L376.52,144.76 L376.87,146.52 L377.22,148.16 L377.58,149.67 L377.93,151.05 L378.28,152.30 L378.63,153.42 L378.98,154.41 L379.33,155.26 L379.68,155.98 L380.03,156.57 L380.39,157.02 L380.74,157.34 L381.09,157.52 L381.44,157.57 L381.79,157.49 L382.14,157.27 L382.49,156.91 L382.84,156.43 L383.20,155.81 L383.55,155.06 L383.90,154.18 L384.25,153.17 L384.60,152.03 L384.95,150.76 L385.30,149.37 L385.65,147.85 L386.00,146.21 L386.36,144.46 L386.71,142.59 L387.06,140.61 L387.41,138.52 L387.76,136.33 L388.11,134.03 L388.46,131.65 L388.81,129.17 L389.17,126.62 L389.52,123.98 L389.87,121.28 L390.22,118.51 L390.57,115.69 L390.92,112.82 L391.27,109.91 L391.62,106.98 L391.98,104.02 L392.33,101.06 L392.68,98.10 L393.03,95.14 L393.38,92.22 L393.73,89.32 L394.08,86.47 L394.43,83.68 L394.79,80.96 L395.14,78.32 L395.49,75.77 L395.84,73.32 L396.19,70.98 L396.54,68.77 L396.89,66.70 L397.24,64.76 L397.60,62.98 L397.95,61.36 L398.30,59.91 L398.65,58.62 L399.00,57.52 L399.35,56.60 L399.70,55.86 L400.05,55.31 L400.40,54.95 L400.76,54.77 L401.11,54.78 L401.46,54.98 L401.81,55.36 L402.16,55.91 L402.51,56.64 L402.86,57.54 L403.21,58.61 L403.57,59.83 L403.92,61.21 L404.27,62.73 L404.62,64.38 L404.97,66.16 L405.32,68.06 L405.67,70.07 L406.02,72.18 L406.38,74.37 L406.73,76.65 L407.08,79.00 L407.43,81.42 L407.78,83.88 L408.13,86.39 L408.48,88.93 L408.83,91.50 L409.19,94.08 L409.54,96.68 L409.89,99.27 L410.24,101.86 L410.59,104.44 L410.94,107.00 L411.29,109.53 L411.64,112.03 L412.00,114.50 L412.35,116.92 L412.70,119.29 L413.05,121.61 L413.40,123.88 L413.75,126.09 L414.10,128.23 L414.45,130.31 L414.80,132.31 L415.16,134.25 L415.51,136.11 L415.86,137.89 L416.21,139.60 L416.56,141.22 L416.91,142.77 L417.26,144.23 L417.61,145.60 L417.97,146.89 L418.32,148.10 L418.67,149.21 L419.02,150.24 L419.37,151.18 L419.72,152.03 L420.07,152.79 L420.42,153.46 L420.78,154.05 L421.13,154.54 L421.48,154.94 L421.83,155.26 L422.18,155.48 L422.53,155.62 L422.88,155.67 L423.23,155.62 L423.59,155.49 L423.94,155.27 L424.29,154.97 L424.64,154.57 L424.99,154.08 L425.34,153.50 L425.69,152.83 L426.04,152.08 L426.40,151.24 L426.75,150.30 L427.10,149.28 L427.45,148.18 L427.80,146.99 L428.15,145.71 L428.50,144.36 L428.85,142.92 L429.20,141.40 L429.56,139.80 L429.91,138.13 L430.26,136.38 L430.61,134.56 L430.96,132.68 L431.31,130.73 L431.66,128.71 L432.01,126.64 L432.37,124.50 L432.72,122.32 L433.07,120.09 L433.42,117.82 L433.77,115.50 L434.12,113.15 L434.47,110.77 L434.82,108.37 L435.18,105.94 L435.53,103.51 L435.88,101.06 L436.23,98.62 L436.58,96.17 L436.93,93.74 L437.28,91.33 L437.63,88.94 L437.99,86.58 L438.34,84.25 L438.69,81.97 L439.04,79.74 L439.39,77.56 L439.74,75.45 L440.09,73.41 L440.44,71.44 L440.80,69.55 L441.15,67.75 L441.50,66.05 L441.85,64.43 L442.20,62.92 L442.55,61.52 L442.90,60.22 L443.25,59.04 L443.60,57.98 L443.96,57.03 L444.31,56.20 L444.66,55.49 L445.01,54.91 L445.36,54.45 L445.71,54.11 L446.06,53.89 L446.41,53.80 L446.77,53.82 L447.12,53.97 L447.47,54.23 L447.82,54.60 L448.17,55.09 L448.87,56.39 L449.58,58.10 L450.28,60.20 L450.98,62.65 L451.68,65.43 L452.39,68.48 L453.09,71.78 L453.79,75.28 L454.49,78.96 L455.20,82.77 L455.90,86.68 L456.60,90.66 L457.30,94.67 L458.00,98.68 L458.71,102.68 L459.41,106.62 L460.11,110.50 L460.81,114.29 L461.52,117.97 L462.22,121.53 L462.92,124.95 L463.62,128.22 L464.33,131.33 L465.03,134.28 L465.73,137.04 L466.43,139.61 L467.14,142.00 L467.84,144.19 L468.54,146.19 L469.24,147.98 L469.95,149.57 L470.65,150.95 L471.35,152.12 L472.05,153.08 L472.76,153.84 L473.46,154.38 L474.16,154.72 L474.86,154.84 L475.57,154.76 L476.27,154.47 L476.97,153.97 L477.67,153.27 L478.38,152.38 L479.08,151.29 L479.78,150.01 L480.48,148.54 L481.19,146.89 L481.89,145.07 L482.59,143.07 L483.29,140.91 L484.00,138.58 L484.70,136.11 L485.40,133.49 L486.10,130.74 L486.80,127.85 L487.51,124.85 L488.21,121.75 L488.91,118.54 L489.61,115.25 L490.32,111.89 L491.02,108.47 L491.72,105.01 L492.42,101.52 L493.13,98.02 L493.83,94.53 L494.53,91.05 L495.23,87.62 L495.94,84.25 L496.64,80.97 L497.34,77.78 L498.04,74.70 L498.75,71.77 L499.45,69.00 L500.15,66.40 L500.85,63.99 L501.56,61.80 L502.26,59.84 L502.96,58.12 L503.66,56.65 L504.37,55.46 L505.07,54.54 L505.77,53.90 L506.47,53.55 L507.18,53.48 L507.88,53.71 L508.58,54.22 L509.28,55.01 L509.99,56.07 L510.69,57.38 L511.39,58.94 L512.09,60.74 L512.80,62.75 L513.50,64.95 L514.20,67.34 L514.90,69.90 L515.60,72.59 L516.31,75.42 L517.01,78.35 L517.71,81.37 L518.41,84.46 L519.12,87.60 L519.82,90.78 L520.52,93.99 L521.22,97.19 L521.93,100.39 L522.63,103.56 L523.33,106.69 L524.03,109.78 L524.74,112.81 L525.44,115.77 L526.14,118.65 L526.84,121.45 L527.55,124.15 L528.25,126.75 L528.95,129.25 L529.65,131.63 L530.36,133.90 L531.06,136.05 L531.76,138.07 L532.46,139.97 L533.17,141.74 L533.87,143.39 L534.57,144.89 L535.27,146.27 L535.98,147.51 L536.68,148.62 L537.38,149.59 L538.08,150.42 L538.79,151.12 L539.49,151.69 L540.19,152.12 L540.89,152.41 L541.60,152.58 L542.30,152.61 L543.00,152.50 L543.70,152.27 L544.40,151.90 L545.11,151.40 L545.81,150.77 L546.51,150.01 L547.21,149.11 L547.92,148.09 L548.62,146.93 L549.32,145.65 L550.02,144.24 L550.73,142.71 L551.43,141.06 L552.13,139.30 L552.83,137.42 L553.54,135.43 L554.24,133.34 L554.94,131.14 L555.64,128.86 L556.35,126.48 L557.05,124.03 L557.75,121.50 L558.45,118.91 L559.16,116.25 L559.86,113.55 L560.56,110.81 L561.26,108.03 L561.97,105.23 L562.67,102.42 L563.37,99.61 L564.07,96.81 L564.78,94.03 L565.48,91.28 L566.18,88.58 L566.88,85.93 L567.59,83.34 L568.29,80.83 L568.99,78.40 L569.69,76.07 L570.40,73.85 L571.10,71.74 L571.80,69.76 L572.50,67.91 L573.20,66.19 L573.91,64.62 L574.61,63.21 L575.31,61.94 L576.01,60.84 L576.72,59.90 L577.42,59.12 L578.12,58.50 L578.82,58.05 L579.53,57.76 L580.23,57.62 L580.93,57.64 L581.63,57.81 L582.34,58.14 L583.04,58.60 L583.74,59.21 L584.44,59.96 L585.15,60.85 L585.85,61.86 L586.55,62.99 L587.25,64.24 L587.96,65.60 L588.66,67.07 L589.36,68.63 L590.06,70.29 L590.77,72.03 L591.47,73.84 L592.17,75.72 L592.87,77.66 L593.58,79.66 L594.28,81.71 L594.98,83.80 L595.68,85.92 L596.39,88.07 L597.09,90.24 L597.79,92.42 L598.49,94.62 L599.20,96.82 L599.90,99.01 L600.60,101.20 L601.30,103.38 L602.00,105.53 L602.71,107.67 L603.41,109.78 L604.11,111.87 L604.81,113.92 L605.52,115.93 L606.22,117.90 L606.92,119.83 L607.62,121.71 L608.33,123.55 L609.03,125.33 L609.73,127.07 L610.43,128.74 L611.14,130.37 L611.84,131.93 L612.54,133.43 L613.24,134.87 L613.95,136.25 L614.65,137.57 L615.35,138.82 L616.05,140.01 L616.76,141.13 L617.46,142.19 L618.16,143.18 L618.86,144.10 L619.57,144.95 L620.27,145.73 L620.97,146.45 L621.67,147.10 L622.38,147.67 L623.08,148.18 L623.78,148.62 L624.48,148.98 L625.19,149.28 L625.89,149.51 L626.59,149.67 L627.29,149.75 L628.00,149.77 L628.70,149.73 L629.40,149.61 L630.10,149.42 L630.80,149.17 L631.51,148.85 L632.21,148.47 L632.91,148.02 L633.61,147.50 L634.32,146.92 L635.02,146.28 L635.72,145.58 L636.42,144.81 L637.13,143.99 L637.83,143.10 L638.53,142.16 L639.23,141.16 L639.94,140.10 L640.64,138.99 L641.34,137.82 L642.04,136.60 L642.75,135.33 L643.45,134.01 L644.15,132.64 L644.85,131.23 L645.56,129.77 L646.26,128.27 L646.96,126.72 L647.66,125.14 L648.37,123.52 L649.07,121.87 L649.77,120.18 L650.47,118.46 L651.18,116.71 L651.88,114.93 L652.58,113.13 L653.28,111.31 L653.99,109.48 L654.69,107.62 L655.39,105.75 L656.09,103.87 L656.80,101.99 L657.50,100.10 L658.20,98.21 L658.90,96.32 L659.60,94.43 L660.31,92.56 L661.01,90.69 L661.71,88.84 L662.41,87.01 L663.12,85.20 L663.82,83.42 L664.52,81.66 L665.22,79.94 L665.93,78.25 L666.63,76.60 L667.33,74.99 L668.03,73.43 L668.74,71.91 L669.44,70.45 L670.14,69.04 L670.84,67.69 L671.55,66.40 L672.25,65.17 L672.95,64.01 L673.65,62.92 L674.36,61.90 L675.06,60.95 L675.76,60.07 L676.46,59.27 L677.17,58.55 L677.87,57.91 L678.57,57.34 L679.27,56.86 L679.98,56.46 L680.68,56.15 L681.38,55.91 L682.08,55.76 L682.79,55.70 L683.49,55.71 L684.19,55.81 L684.89,55.99 L685.60,56.25 L686.30,56.60 L687.00,57.02 L687.70,57.52 L688.40,58.10 L689.11,58.75 L689.81,59.47 L690.51,60.27 L691.21,61.14 L691.92,62.07 L692.62,63.06 L693.32,64.12 L694.02,65.24 L694.73,66.41 L695.43,67.64 L696.13,68.92 L696.83,70.25 L697.54,71.62 L698.24,73.03 L698.94,74.49 L699.64,75.97 L700.35,77.50 L701.05,79.05 L701.75,80.63 L702.45,82.23 L703.16,83.85 L703.86,85.50 L704.56,87.15 L705.26,88.82 L705.97,90.50 L706.67,92.19 L707.37,93.88 L708.07,95.57 L708.78,97.26 L709.48,98.95 L710.18,100.64 L710.88,102.32 L711.59,103.98 L712.29,105.64 L712.99,107.28 L713.69,108.91 L714.40,110.52 L715.10,112.11 L715.80,113.68 L716.50,115.23 L717.20,116.76 L717.91,118.26 L718.61,119.73 L719.31,121.18 L720.01,122.60 L720.72,123.99 L721.42,125.34 L722.12,126.67 L722.82,127.97 L723.53,129.23 L724.23,130.45 L724.93,131.65 L725.63,132.81 L726.34,133.93 L727.04,135.01 L727.74,136.06 L728.44,137.07 L729.15,138.05 L729.85,138.98 L730.55,139.88 L731.25,140.74 L731.96,141.56 L732.66,142.35 L733.36,143.09 L734.06,143.79 L734.77,144.46 L735.47,145.09 L736.17,145.67 L736.87,146.22 L737.58,146.73 L738.28,147.20 L738.98,147.63 L739.68,148.03 L740.39,148.38 L741.09,148.70 L741.79,148.98 L742.49,149.22 L743.20,149.42 L743.90,149.58 L744.60,149.71 L745.30,149.80 L746.00,149.85 L746.71,149.87 L747.41,149.85 L748.11,149.79 L748.81,149.70 L749.52,149.58 L750.22,149.41 L750.92,149.22 L751.62,148.99 L752.33,148.72 L753.03,148.42 L753.73,148.08 L754.43,147.71 L755.14,147.31 L755.84,146.88 L756.54,146.41 L757.24,145.91 L757.95,145.38 L758.65,144.81 L759.35,144.22 L760.05,143.59 L760.76,142.94 L761.46,142.25 L762.16,141.54 L762.86,140.79 L763.57,140.02 L764.27,139.22 L764.97,138.39 L765.67,137.53 L766.38,136.65 L767.08,135.74 L767.78,134.80 L768.48,133.85 L769.19,132.86 L769.89,131.85 L770.59,130.82 L771.29,129.77 L772.00,128.69 L772.70,127.60 L773.40,126.48 L774.10,125.34 L774.80,124.19 L775.51,123.02 L776.21,121.83 L776.91,120.62 L777.61,119.39 L778.32,118.16 L779.02,116.90 L779.72,115.64 L780.42,114.36 L781.13,113.07 L781.83,111.77 L782.53,110.46 L783.23,109.15 L783.94,107.82 L784.64,106.49 L785.34,105.15 L786.04,103.81 L786.75,102.47 L787.45,101.12 L788.15,99.77 L788.85,98.43 L789.56,97.08 L790.26,95.74 L790.96,94.39 L791.66,93.06 L792.37,91.73 L793.07,90.40 L793.77,89.09 L794.47,87.78 L795.18,86.49 L795.88,85.20 L796.58,83.93 L797.28,82.68 L797.99,81.43 L798.69,80.21 L799.39,79.00" stroke="#ee1c3a" stroke-width="3.7" stroke-linecap="round" stroke-dasharray="0.01 6.85"/>
</g></g>
<path d="M108.30,60.40 L109.30,60.35 L110.30,60.29 L111.30,60.24 L112.30,60.18 L113.30,60.12 L114.30,60.05 L115.30,59.99 L116.30,59.93 L117.30,59.87 L118.30,59.80 L119.30,59.74 L120.30,59.68 L121.30,59.61 L122.30,59.55 L123.30,59.49 L124.30,59.42 L125.30,59.36 L126.30,59.30 L127.30,59.23 L128.30,59.17 L129.30,59.11 L130.30,59.04 L131.30,58.98 L132.30,58.92 L133.30,58.86 L134.30,58.80 L135.30,58.74 L136.30,58.67 L137.30,58.61 L138.30,58.55 L139.30,58.49 L140.30,58.43 L141.30,58.37 L142.30,58.30 L143.30,58.24 L144.30,58.18 L145.30,58.13 L146.30,58.08 L147.30,58.02 L148.30,57.97 L149.30,57.91 L150.30,57.86 L151.30,57.81 L152.30,57.75 L153.30,57.70 L154.30,57.65 L155.30,57.59 L156.30,57.54 L157.30,57.48 L158.30,57.43 L159.30,57.38 L160.30,57.32 L161.30,57.27 L162.30,57.21 L163.30,57.16 L164.30,57.11 L165.30,57.05 L166.30,57.00 L167.30,56.95 L168.30,56.89 L169.30,56.84 L170.30,56.79 L171.30,56.74 L172.30,56.69 L173.30,56.65 L174.30,56.60 L175.30,56.56 L176.30,56.51 L177.30,56.46 L178.30,56.42 L179.30,56.37 L180.30,56.32 L181.30,56.28 L182.30,56.23 L183.30,56.19 L184.30,56.14 L185.30,56.09 L186.30,56.05 L187.30,56.00 L188.30,55.96 L189.30,55.91 L190.30,55.86 L191.30,55.82 L192.30,55.77 L193.30,55.72 L194.30,55.68 L195.30,55.63 L196.30,55.59 L197.30,55.57 L198.30,55.55 L199.30,55.53 L200.30,55.51 L201.30,55.49 L202.30,55.47 L203.30,55.45 L204.30,55.43 L205.30,55.41 L206.30,55.39 L207.30,55.37 L208.30,55.35 L209.30,55.32 L210.30,55.30 L211.30,55.28 L212.30,55.26 L213.30,55.24 L214.30,55.22 L215.30,55.20 L216.30,55.18 L217.30,55.16 L218.30,55.14 L219.30,55.12 L220.30,55.10 L221.30,55.08 L222.30,55.06 L223.30,55.04 L224.30,55.01 L225.30,55.00 L226.30,54.99 L227.30,54.98 L228.30,54.97 L229.30,54.96 L230.30,54.95 L231.30,54.94 L232.30,54.93 L233.30,54.92 L234.30,54.91 L235.30,54.90 L236.30,54.90 L237.30,54.89 L238.30,54.88 L239.30,54.87 L240.30,54.86 L241.30,54.85 L242.30,54.84 L243.30,54.83 L244.30,54.82 L245.30,54.81 L246.30,54.80 L247.30,54.79 L248.30,54.78 L249.30,54.78 L250.30,54.77 L251.30,54.76 L252.10,54.75" stroke="#d09b0c" stroke-width="3.8" stroke-linecap="round" stroke-dasharray="8.6 8.45 0.01 8.9" fill="none" stroke-dashoffset="-5.9"/>
<path d="M260.00,54.68 L261.00,54.67 L262.00,54.66 L263.00,54.65 L264.00,54.64 L265.00,54.63 L266.00,54.62 L267.00,54.61 L268.00,54.60 L269.00,54.59 L270.00,54.58 L271.00,54.58 L272.00,54.57 L273.00,54.56 L274.00,54.55 L275.00,54.54 L276.00,54.53 L277.00,54.52 L278.00,54.51 L279.00,54.50 L280.00,54.49 L281.00,54.48 L282.00,54.47 L283.00,54.46 L284.00,54.46 L285.00,54.45 L286.00,54.44 L287.00,54.43 L288.00,54.42 L289.00,54.41 L290.00,54.40 L291.00,54.39 L292.00,54.39 L293.00,54.38 L294.00,54.38 L295.00,54.37 L296.00,54.37 L297.00,54.36 L298.00,54.35 L299.00,54.35 L300.00,54.34 L301.00,54.34 L302.00,54.33 L303.00,54.33 L304.00,54.32 L305.00,54.32 L306.00,54.31 L307.00,54.30 L308.00,54.30 L309.00,54.29 L310.00,54.29 L311.00,54.28 L312.00,54.28 L313.00,54.27 L314.00,54.26 L315.00,54.26 L316.00,54.25 L317.00,54.25 L318.00,54.24 L319.00,54.24 L320.00,54.23 L321.00,54.23 L322.00,54.22 L323.00,54.21 L324.00,54.21 L325.00,54.20 L326.00,54.20 L327.00,54.19 L328.00,54.19 L329.00,54.18 L330.00,54.17 L331.00,54.17 L332.00,54.16 L333.00,54.16 L334.00,54.15 L335.00,54.15 L336.00,54.14 L337.00,54.14 L338.00,54.13 L339.00,54.12 L340.00,54.12 L341.00,54.11 L342.00,54.11 L343.00,54.10 L344.00,54.10 L345.00,54.09 L346.00,54.08 L347.00,54.08 L348.00,54.07 L349.00,54.07 L350.00,54.06 L351.00,54.06 L352.00,54.05 L353.00,54.05 L354.00,54.04 L355.00,54.03 L356.00,54.03 L357.00,54.02 L358.00,54.02 L359.00,54.01 L360.00,54.01 L361.00,54.00 L362.00,53.99 L363.00,53.98 L364.00,53.98 L365.00,53.97 L366.00,53.96 L367.00,53.95 L368.00,53.94 L369.00,53.93 L370.00,53.93 L371.00,53.92 L372.00,53.91 L373.00,53.90 L374.00,53.89 L375.00,53.89 L376.00,53.88 L377.00,53.87 L378.00,53.86 L379.00,53.85 L380.00,53.84 L381.00,53.84 L382.00,53.83 L383.00,53.82 L384.00,53.81 L385.00,53.80 L386.00,53.80 L387.00,53.79 L388.00,53.78 L389.00,53.77 L390.00,53.76 L391.00,53.76 L392.00,53.75 L393.00,53.74 L394.00,53.73 L395.00,53.72 L396.00,53.71 L397.00,53.71 L398.00,53.70 L399.00,53.69 L400.00,53.68 L401.00,53.67 L402.00,53.67 L403.00,53.66 L404.00,53.65 L405.00,53.64 L406.00,53.63 L407.00,53.62 L408.00,53.62 L409.00,53.61 L410.00,53.60 L411.00,53.59 L412.00,53.59 L413.00,53.58 L414.00,53.57 L415.00,53.57 L416.00,53.56 L417.00,53.55 L418.00,53.55 L419.00,53.54 L420.00,53.53 L421.00,53.53 L422.00,53.52 L423.00,53.51 L424.00,53.50 L425.00,53.50 L426.00,53.49 L427.00,53.48 L428.00,53.48 L429.00,53.47 L430.00,53.46 L431.00,53.46 L432.00,53.45 L433.00,53.41 L433.20,53.40" stroke="#d09b0c" stroke-width="3.8" stroke-linecap="round" stroke-dasharray="8.6 8.45 0.01 8.9" fill="none"/>
<path d="M439.60,53.13 L440.60,53.09 L441.60,53.04 L442.60,53.00 L443.60,52.96 L444.60,52.92 L445.60,52.87 L446.60,52.83 L447.60,52.79 L448.60,52.74 L449.60,52.70 L450.60,52.66 L451.60,52.61 L452.60,52.57 L453.60,52.53 L454.60,52.48 L455.60,52.44 L456.60,52.40 L456.90,52.40" stroke="#d09b0c" stroke-width="3.8" stroke-linecap="round" stroke-dasharray="8.6 8.45 0.01 8.9" fill="none"/>
<path d="M464.00,53.90 L465.00,53.89 L466.00,53.89 L467.00,53.88 L468.00,53.88 L469.00,53.87 L470.00,53.87 L471.00,53.86 L472.00,53.86 L473.00,53.85 L474.00,53.84 L475.00,53.84 L476.00,53.83 L477.00,53.83 L478.00,53.82 L479.00,53.82 L480.00,53.81 L481.00,53.81 L482.00,53.80 L483.00,53.79 L484.00,53.79 L485.00,53.78 L486.00,53.78 L487.00,53.77 L488.00,53.77 L489.00,53.76 L490.00,53.76 L491.00,53.75 L492.00,53.74 L493.00,53.74 L494.00,53.73 L495.00,53.73 L496.00,53.72 L497.00,53.72 L498.00,53.71 L499.00,53.71 L500.00,53.70 L501.00,53.70 L502.00,53.70 L503.00,53.69 L504.00,53.69 L505.00,53.69 L506.00,53.69 L507.00,53.68 L508.00,53.68 L509.00,53.68 L510.00,53.68 L511.00,53.67 L512.00,53.67 L513.00,53.67 L514.00,53.67 L515.00,53.66 L516.00,53.66 L517.00,53.66 L518.00,53.66 L519.00,53.65 L520.00,53.65 L521.00,53.65 L522.00,53.65 L523.00,53.64 L524.00,53.64 L525.00,53.64 L526.00,53.64 L527.00,53.63 L528.00,53.63 L529.00,53.63 L530.00,53.63 L531.00,53.62 L532.00,53.62 L533.00,53.62 L534.00,53.62 L535.00,53.61 L536.00,53.61 L537.00,53.61 L538.00,53.61 L539.00,53.60 L540.00,53.60 L541.00,53.60 L542.00,53.60 L543.00,53.59 L544.00,53.59 L545.00,53.59 L546.00,53.59 L547.00,53.58 L548.00,53.58 L549.00,53.58 L550.00,53.58 L551.00,53.57 L552.00,53.57 L553.00,53.57 L554.00,53.57 L555.00,53.56 L556.00,53.56 L557.00,53.56 L558.00,53.55 L559.00,53.55 L560.00,53.54 L561.00,53.54 L562.00,53.54 L563.00,53.53 L564.00,53.53 L565.00,53.53 L566.00,53.52 L567.00,53.52 L568.00,53.52 L569.00,53.51 L570.00,53.51 L571.00,53.50 L572.00,53.50 L573.00,53.50 L574.00,53.49 L575.00,53.49 L576.00,53.49 L577.00,53.48 L578.00,53.48 L579.00,53.48 L580.00,53.47 L581.00,53.47 L582.00,53.47 L583.00,53.46 L584.00,53.46 L585.00,53.45 L586.00,53.45 L587.00,53.45 L588.00,53.44 L589.00,53.44 L590.00,53.44 L591.00,53.43 L592.00,53.43 L593.00,53.43 L594.00,53.42 L595.00,53.42 L596.00,53.41 L597.00,53.41 L598.00,53.41 L599.00,53.40 L600.00,53.40 L601.00,53.40 L602.00,53.40 L603.00,53.40 L604.00,53.40 L605.00,53.40 L606.00,53.40 L607.00,53.40 L608.00,53.40 L609.00,53.40 L610.00,53.40 L611.00,53.40 L612.00,53.40 L613.00,53.40 L614.00,53.40 L615.00,53.40 L616.00,53.40 L617.00,53.40 L618.00,53.40 L619.00,53.40 L620.00,53.40 L621.00,53.40 L622.00,53.40 L623.00,53.40 L624.00,53.40 L625.00,53.40 L626.00,53.40 L627.00,53.40 L628.00,53.40 L629.00,53.40 L630.00,53.40 L631.00,53.40 L632.00,53.40 L633.00,53.40 L634.00,53.40 L635.00,53.40 L636.00,53.40 L637.00,53.40 L638.00,53.40 L639.00,53.40 L640.00,53.40 L641.00,53.40 L642.00,53.40 L643.00,53.40 L644.00,53.40 L645.00,53.40 L646.00,53.40 L647.00,53.40 L648.00,53.40 L649.00,53.40 L650.00,53.40 L651.00,53.40 L652.00,53.40 L653.00,53.40 L654.00,53.40 L655.00,53.40 L655.50,53.40" stroke="#d09b0c" stroke-width="3.8" stroke-linecap="round" stroke-dasharray="8.6 8.45 0.01 8.9" fill="none"/>
<rect x="108.3" y="22.2" width="547.2" height="472.5" fill="none" stroke="#000" stroke-width="5.4" stroke-linejoin="round"/>
<path d="M100.00,494.70H108.30 M103.80,447.45H108.30 M100.00,400.20H108.30 M103.80,352.95H108.30 M100.00,305.70H108.30 M103.80,258.45H108.30 M100.00,211.20H108.30 M103.80,163.95H108.30 M100.00,116.70H108.30 M103.80,69.45H108.30 M100.00,22.20H108.30 M108.30,494.70V499.00 M137.10,494.70V504.00 M165.90,494.70V499.00 M194.70,494.70V504.00 M223.50,494.70V499.00 M252.30,494.70V504.00 M281.10,494.70V499.00 M309.90,494.70V504.00 M338.70,494.70V499.00 M367.50,494.70V504.00 M396.30,494.70V499.00 M425.10,494.70V504.00 M453.90,494.70V499.00 M482.70,494.70V504.00 M511.50,494.70V499.00 M540.30,494.70V504.00 M569.10,494.70V499.00 M597.90,494.70V504.00 M626.70,494.70V499.00 M655.50,494.70V504.00" stroke="#000" stroke-width="5.4" fill="none"/>
<text transform="translate(137.10,533.60) scale(0.895,1)" font-size="31.5" text-anchor="middle" style="font-family:'Liberation Serif',serif;font-weight:bold">300</text>
<text transform="translate(194.70,533.60) scale(0.895,1)" font-size="31.5" text-anchor="middle" style="font-family:'Liberation Serif',serif;font-weight:bold">400</text>
<text transform="translate(252.30,533.60) scale(0.895,1)" font-size="31.5" text-anchor="middle" style="font-family:'Liberation Serif',serif;font-weight:bold">500</text>
<text transform="translate(309.90,533.60) scale(0.895,1)" font-size="31.5" text-anchor="middle" style="font-family:'Liberation Serif',serif;font-weight:bold">600</text>
<text transform="translate(367.50,533.60) scale(0.895,1)" font-size="31.5" text-anchor="middle" style="font-family:'Liberation Serif',serif;font-weight:bold">700</text>
<text transform="translate(425.10,533.60) scale(0.895,1)" font-size="31.5" text-anchor="middle" style="font-family:'Liberation Serif',serif;font-weight:bold">800</text>
<text transform="translate(482.70,533.60) scale(0.895,1)" font-size="31.5" text-anchor="middle" style="font-family:'Liberation Serif',serif;font-weight:bold">900</text>
<text transform="translate(540.50,533.60) scale(0.86,1)" font-size="31.5" text-anchor="middle" style="font-family:'Liberation Serif',serif;font-weight:bold">1000</text>
<text transform="translate(598.10,533.60) scale(0.86,1)" font-size="31.5" text-anchor="middle" style="font-family:'Liberation Serif',serif;font-weight:bold">1100</text>
<text transform="translate(655.70,533.60) scale(0.86,1)" font-size="31.5" text-anchor="middle" style="font-family:'Liberation Serif',serif;font-weight:bold">1200</text>
<text transform="translate(94.60,506.30) scale(0.937,1)" font-size="37" text-anchor="end" style="font-family:'Liberation Serif',serif;font-weight:bold">0</text>
<text transform="translate(94.60,411.80) scale(0.937,1)" font-size="37" text-anchor="end" style="font-family:'Liberation Serif',serif;font-weight:bold">20</text>
<text transform="translate(94.60,317.30) scale(0.937,1)" font-size="37" text-anchor="end" style="font-family:'Liberation Serif',serif;font-weight:bold">40</text>
<text transform="translate(94.60,222.80) scale(0.937,1)" font-size="37" text-anchor="end" style="font-family:'Liberation Serif',serif;font-weight:bold">60</text>
<text transform="translate(94.60,128.30) scale(0.937,1)" font-size="37" text-anchor="end" style="font-family:'Liberation Serif',serif;font-weight:bold">80</text>
<text transform="translate(94.60,33.80) scale(0.937,1)" font-size="37" text-anchor="end" style="font-family:'Liberation Serif',serif;font-weight:bold">100</text>
<text transform="translate(383.20,573.20) scale(0.94,1)" font-size="40" text-anchor="middle" style="font-family:'Liberation Serif',serif;font-weight:bold">Wavelength(nm)</text>
<text transform="translate(35.4,258.3) rotate(-90) scale(0.997,1.03)" font-size="40" text-anchor="middle" style="font-family:'Liberation Serif',serif;font-weight:bold">Transmittance(%)</text>
<path d="M454.7,201.2H505" stroke="#1f9a0e" stroke-width="5.4" stroke-linecap="round" stroke-dasharray="7.6 15" fill="none"/>
<path d="M454.7,234.2H505" stroke="#1fc0e8" stroke-width="5.4" stroke-linecap="round" fill="none"/>
<path d="M454.4,267.5H503.2" stroke="#ee1c3a" stroke-width="5.3" stroke-linecap="round" stroke-dasharray="0.01 9.71" fill="none"/>
<path d="M454.6,300.8H505.1" stroke="#d09b0c" stroke-width="5.4" stroke-linecap="round" stroke-dasharray="14.8 12.1 0.01 12.7" fill="none"/>
<text transform="translate(517.60,208.80) scale(0.897,1)" font-size="28" text-anchor="start" style="font-family:'Liberation Serif',serif;font-weight:bold">A:25sccm</text>
<text transform="translate(517.60,241.90) scale(0.897,1)" font-size="28" text-anchor="start" style="font-family:'Liberation Serif',serif;font-weight:bold">B:30sccm</text>
<text transform="translate(517.60,275.00) scale(0.897,1)" font-size="28" text-anchor="start" style="font-family:'Liberation Serif',serif;font-weight:bold">C:35sccm</text>
<text transform="translate(517.60,308.10) scale(0.897,1)" font-size="28" text-anchor="start" style="font-family:'Liberation Serif',serif;font-weight:bold">Substrate</text>
</svg>
</body></html>
